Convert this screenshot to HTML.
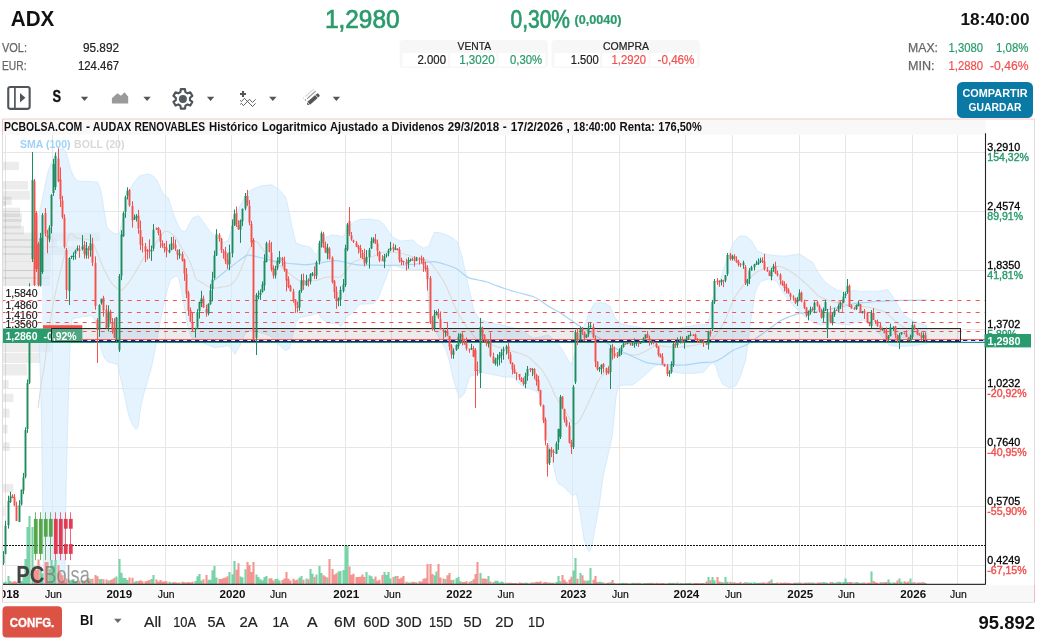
<!DOCTYPE html>
<html lang="es">
<head>
<meta charset="utf-8">
<title>PCBolsa - ADX AUDAX RENOVABLES</title>
<style>
html,body{margin:0;padding:0;background:#fff;}
body{width:1048px;height:643px;overflow:hidden;font-family:'Liberation Sans', Arial, sans-serif;}
#app{position:relative;width:1048px;height:643px;overflow:hidden;background:#fff;}
svg{position:absolute;left:0;top:0;display:block;will-change:transform;}
svg text{font-family:'Liberation Sans', Arial, sans-serif;white-space:pre;}
</style>
</head>
<body>
<div id="app">
<svg width="1048" height="643" viewBox="0 0 1048 643">
<g id="header">
<text x="10.8" y="26.3" font-size="21.8" fill="#111" font-weight="bold" textLength="43.6" lengthAdjust="spacingAndGlyphs">ADX</text>
<text x="2" y="52" font-size="12.5" fill="#666" textLength="25" lengthAdjust="spacingAndGlyphs" stroke="#666" stroke-width="0.25">VOL:</text>
<text x="2" y="70" font-size="12.5" fill="#666" textLength="24.5" lengthAdjust="spacingAndGlyphs" stroke="#666" stroke-width="0.25">EUR:</text>
<text x="119" y="52" font-size="12.5" fill="#222" text-anchor="end" textLength="36" lengthAdjust="spacingAndGlyphs" stroke="#222" stroke-width="0.22">95.892</text>
<text x="119" y="70" font-size="12.5" fill="#222" text-anchor="end" textLength="41" lengthAdjust="spacingAndGlyphs" stroke="#222" stroke-width="0.22">124.467</text>
<text x="325" y="27.5" font-size="25" fill="#2a9b6c" textLength="74.5" lengthAdjust="spacingAndGlyphs" stroke="#2a9b6c" stroke-width="0.7">1,2980</text>
<text x="510.5" y="27.5" font-size="25" fill="#2a9b6c" textLength="59.5" lengthAdjust="spacingAndGlyphs" stroke="#2a9b6c" stroke-width="0.7">0,30%</text>
<text x="574.5" y="24" font-size="12.5" fill="#2a9b6c" font-weight="bold" textLength="47" lengthAdjust="spacingAndGlyphs" stroke="#2a9b6c" stroke-width="0.22">(0,0040)</text>
<text x="1029.5" y="24.5" font-size="17" fill="#111" font-weight="bold" text-anchor="end" textLength="69" lengthAdjust="spacingAndGlyphs">18:40:00</text>
<rect x="399.5" y="40" width="148.5" height="28" rx="4" fill="#f7f7f7"/>
<rect x="551.5" y="40" width="148.5" height="28" rx="4" fill="#f7f7f7"/>
<rect x="402.5" y="53" width="45.5" height="13.5" fill="#fff"/>
<rect x="450.0" y="53" width="46.5" height="13.5" fill="#fff"/>
<rect x="498.5" y="53" width="46.5" height="13.5" fill="#fff"/>
<rect x="554.5" y="53" width="45.5" height="13.5" fill="#fff"/>
<rect x="602.0" y="53" width="46.5" height="13.5" fill="#fff"/>
<rect x="650.5" y="53" width="46.5" height="13.5" fill="#fff"/>
<text x="474.3" y="50" font-size="11.5" fill="#222" text-anchor="middle" textLength="33.5" lengthAdjust="spacingAndGlyphs" stroke="#222" stroke-width="0.22">VENTA</text>
<text x="626" y="50" font-size="11.5" fill="#222" text-anchor="middle" textLength="46" lengthAdjust="spacingAndGlyphs" stroke="#222" stroke-width="0.22">COMPRA</text>
<text x="446" y="64" font-size="12.5" fill="#222" text-anchor="end" textLength="28.5" lengthAdjust="spacingAndGlyphs" stroke="#222" stroke-width="0.22">2.000</text>
<text x="459.2" y="64" font-size="12.5" fill="#2a9b6c" textLength="35.5" lengthAdjust="spacingAndGlyphs" stroke="#2a9b6c" stroke-width="0.22">1,3020</text>
<text x="510" y="64" font-size="12.5" fill="#2a9b6c" textLength="32.2" lengthAdjust="spacingAndGlyphs" stroke="#2a9b6c" stroke-width="0.22">0,30%</text>
<text x="598.7" y="64" font-size="12.5" fill="#222" text-anchor="end" textLength="28" lengthAdjust="spacingAndGlyphs" stroke="#222" stroke-width="0.22">1.500</text>
<text x="611.5" y="64" font-size="12.5" fill="#f0504d" textLength="34.5" lengthAdjust="spacingAndGlyphs" stroke="#f0504d" stroke-width="0.22">1,2920</text>
<text x="657.5" y="64" font-size="12.5" fill="#f0504d" textLength="37" lengthAdjust="spacingAndGlyphs" stroke="#f0504d" stroke-width="0.22">-0,46%</text>
<text x="908" y="52" font-size="12.5" fill="#666" textLength="30" lengthAdjust="spacingAndGlyphs" stroke="#666" stroke-width="0.25">MAX:</text>
<text x="948.5" y="52" font-size="12.5" fill="#2a9b6c" textLength="34.5" lengthAdjust="spacingAndGlyphs" stroke="#2a9b6c" stroke-width="0.22">1,3080</text>
<text x="1028.5" y="52" font-size="12.5" fill="#2a9b6c" text-anchor="end" textLength="32.5" lengthAdjust="spacingAndGlyphs" stroke="#2a9b6c" stroke-width="0.22">1,08%</text>
<text x="908" y="70" font-size="12.5" fill="#666" textLength="26.5" lengthAdjust="spacingAndGlyphs" stroke="#666" stroke-width="0.25">MIN:</text>
<text x="948.5" y="70" font-size="12.5" fill="#f0504d" textLength="34.5" lengthAdjust="spacingAndGlyphs" stroke="#f0504d" stroke-width="0.22">1,2880</text>
<text x="1028.5" y="70" font-size="12.5" fill="#f0504d" text-anchor="end" textLength="38.5" lengthAdjust="spacingAndGlyphs" stroke="#f0504d" stroke-width="0.22">-0,46%</text>
<rect x="957" y="82" width="76" height="36" rx="5.5" fill="#0b79a6"/>
<text x="995" y="97" font-size="11" fill="#fff" font-weight="bold" text-anchor="middle" textLength="65" lengthAdjust="spacingAndGlyphs">COMPARTIR</text>
<text x="995" y="110.5" font-size="11" fill="#fff" font-weight="bold" text-anchor="middle" textLength="53" lengthAdjust="spacingAndGlyphs">GUARDAR</text>
</g>
<g id="toolbar">
<rect x="8.25" y="87.05" width="21.4" height="21.8" rx="2" fill="none" stroke="#50555c" stroke-width="2.1"/>
<path d="M14.9 87v22" stroke="#50555c" stroke-width="1.7"/>
<path d="M20 93l5.4 4.8l-5.4 4.8z" fill="#50555c"/>
<text x="52.6" y="102" font-size="16" fill="#111" font-weight="bold" textLength="8.6" lengthAdjust="spacingAndGlyphs" stroke="#111" stroke-width="0.3">S</text>
<path d="M80.8 96.8h7.4l-3.7 4.1z" fill="#555"/>
<path d="M111.9 103.5V98.2L117.4 93.2L121 95.8L124.6 92.3L128.2 96.8V103.5z" fill="#9a9a9a"/>
<path d="M143.4 96.8h7.4l-3.7 4.1z" fill="#555"/>
<path d="M180.36 92.16L180.84 89.22L184.96 89.22L185.44 92.16L187.47 93.33L190.25 92.27L192.32 95.85L190.00 97.73L190.00 100.07L192.32 101.95L190.25 105.53L187.47 104.47L185.44 105.64L184.96 108.58L180.84 108.58L180.36 105.64L178.33 104.47L175.55 105.53L173.48 101.95L175.80 100.07L175.80 97.73L173.48 95.85L175.55 92.27L178.33 93.33z" fill="none" stroke="#50555c" stroke-width="2.2" stroke-linejoin="round"/>
<circle cx="182.9" cy="98.9" r="4" fill="#555a62"/>
<path d="M206.9 96.8h7.4l-3.7 4.1z" fill="#555"/>
<path d="M240 94h6M243 91v6" stroke="#555" stroke-width="2.1"/>
<path d="M240.16 100.37L241.46 101.49L244.45 98.31L252.47 106.45L255.64 103.35" fill="none" stroke="#444" stroke-width="0.85"/>
<path d="M240.16 104.47L241.46 103.35L243.51 105.59L249.49 99.25L252.47 102.42L255.64 99.36" fill="none" stroke="#444" stroke-width="0.85"/>
<path d="M269.1 96.8h7.4l-3.7 4.1z" fill="#555"/>
<g transform="translate(313 99.5) rotate(-41.1)"><path d="M-7.9 0l1.7-1.9v3.8z" fill="#555"/><path d="M-5.6 -1.95h10.1v3.9h-10.1z" fill="#555"/><path d="M5.1 -1.95h1.6a1.1 1.1 0 0 1 1.1 1.1v1.7a1.1 1.1 0 0 1 -1.1 1.1h-1.6z" fill="#555"/></g>
<g transform="translate(310.9 95.3) rotate(-41.1)"><path d="M-5 0h11.3" stroke="#919191" stroke-width="1.2"/><path d="M-7.8 0h1.3" stroke="#919191" stroke-width="1.2"/></g>
<g transform="translate(308.95 93.3) rotate(-41.1)"><path d="M-5 0h11.3" stroke="#d6d6d6" stroke-width="1.2"/><path d="M-7.8 0h1.3" stroke="#d6d6d6" stroke-width="1.2"/></g>
<path d="M332.7 96.8h7.4l-3.7 4.1z" fill="#555"/>
</g>
<g id="chart">
<rect x="3" y="585.2" width="1031.5" height="17" fill="#f8f8f8"/>
<rect x="3" y="119.5" width="982.5" height="15.2" fill="#f8f8f8"/>
<path d="M2.5 135V119H1034.5" fill="none" stroke="#f3c6c6" stroke-width="1"/>
<path d="M2.5 135V585" fill="none" stroke="#e2dada" stroke-width="1"/>
<path d="M2.5 585V602.5" fill="none" stroke="#f3c6c6" stroke-width="1"/>
<path d="M1034.5 119V585" fill="none" stroke="#e4dcdc" stroke-width="1"/>
<path d="M1034.5 585V602.5" fill="none" stroke="#f1bcbc" stroke-width="1"/>
<path d="M2.5 602.5H1034.5" fill="none" stroke="#e6e6e6" stroke-width="1"/>
<g font-weight="bold" font-size="12" fill="#111">
<text x="4.00" y="131.3" textLength="78.25" lengthAdjust="spacingAndGlyphs">PCBOLSA.COM</text>
<text x="87.88" y="131.3" text-anchor="middle">-</text>
<text x="92.75" y="131.3" textLength="38.50" lengthAdjust="spacingAndGlyphs">AUDAX</text>
<text x="134.50" y="131.3" textLength="70.50" lengthAdjust="spacingAndGlyphs">RENOVABLES</text>
<text x="209.00" y="131.3" textLength="49.00" lengthAdjust="spacingAndGlyphs">Histórico</text>
<text x="262.00" y="131.3" textLength="64.75" lengthAdjust="spacingAndGlyphs">Logaritmico</text>
<text x="330.00" y="131.3" textLength="48.00" lengthAdjust="spacingAndGlyphs">Ajustado</text>
<text x="385.38" y="131.3" text-anchor="middle">a</text>
<text x="391.50" y="131.3" textLength="52.75" lengthAdjust="spacingAndGlyphs">Dividenos</text>
<text x="447.75" y="131.3" textLength="51.50" lengthAdjust="spacingAndGlyphs">29/3/2018</text>
<text x="504.80" y="131.3" text-anchor="middle">-</text>
<text x="510.75" y="131.3" textLength="52.25" lengthAdjust="spacingAndGlyphs">17/2/2026</text>
<text x="568.25" y="131.3" text-anchor="middle">,</text>
<text x="573.25" y="131.3" textLength="42.75" lengthAdjust="spacingAndGlyphs">18:40:00</text>
<text x="619.50" y="131.3" textLength="35.25" lengthAdjust="spacingAndGlyphs">Renta:</text>
<text x="658.25" y="131.3" textLength="43.50" lengthAdjust="spacingAndGlyphs">176,50%</text>
</g>
<clipPath id="plot"><rect x="3" y="135" width="982.5" height="449"/></clipPath>
<path d="M3 152.2H985.5M3 211.2H985.5M3 270.3H985.5M3 329.3H985.5M3 388.3H985.5M3 447.3H985.5M3 506.2H985.5M3 565.2H985.5M5.4 135V584M118.5 135V584M231.7 135V584M345.4 135V584M458.4 135V584M572.5 135V584M685.6 135V584M799.4 135V584M912.4 135V584M52.6 135V584M165.4 135V584M277.6 135V584M391.5 135V584M505.2 135V584M619.7 135V584M732.7 135V584M845.7 135V584M957.6 135V584" stroke="#e6e6e6" stroke-width="1" fill="none" shape-rendering="crispEdges"/>
<g clip-path="url(#plot)">
<rect x="3" y="161.7" width="16" height="8.5" fill="#000" fill-opacity="0.075"/>
<rect x="3" y="181" width="25" height="8.6" fill="#000" fill-opacity="0.075"/>
<rect x="3" y="190.7" width="26.9" height="9" fill="#000" fill-opacity="0.075"/>
<rect x="3" y="196.6" width="8.7" height="8.4" fill="#000" fill-opacity="0.075"/>
<rect x="3" y="201" width="3.2" height="5.7" fill="#000" fill-opacity="0.075"/>
<rect x="3" y="207.7" width="17.2" height="9.5" fill="#000" fill-opacity="0.075"/>
<rect x="3" y="213.4" width="19" height="8.6" fill="#000" fill-opacity="0.075"/>
<rect x="3" y="219" width="18" height="9.5" fill="#000" fill-opacity="0.075"/>
<rect x="3" y="225.8" width="21" height="8.6" fill="#000" fill-opacity="0.075"/>
<rect x="3" y="232.5" width="97" height="8.6" fill="#000" fill-opacity="0.075"/>
<rect x="3" y="239" width="54" height="8.8" fill="#000" fill-opacity="0.075"/>
<rect x="3" y="246" width="73" height="9" fill="#000" fill-opacity="0.075"/>
<rect x="3" y="253" width="48" height="9" fill="#000" fill-opacity="0.075"/>
<rect x="3" y="261.5" width="48" height="9" fill="#000" fill-opacity="0.075"/>
<rect x="3" y="270" width="47.5" height="9" fill="#000" fill-opacity="0.075"/>
<rect x="3" y="277" width="47" height="9" fill="#000" fill-opacity="0.075"/>
<rect x="3" y="343" width="48.6" height="9.3" fill="#000" fill-opacity="0.075"/>
<rect x="3" y="353" width="37" height="10" fill="#000" fill-opacity="0.075"/>
<rect x="3" y="364" width="23.8" height="11.5" fill="#000" fill-opacity="0.075"/>
<rect x="3" y="380" width="5.6" height="8" fill="#000" fill-opacity="0.075"/>
<rect x="3" y="393.7" width="10.4" height="8.3" fill="#000" fill-opacity="0.075"/>
<rect x="3" y="408.6" width="6.6" height="9" fill="#000" fill-opacity="0.075"/>
<rect x="3" y="424.7" width="4.6" height="8.8" fill="#000" fill-opacity="0.075"/>
<rect x="3" y="442.4" width="6.6" height="8.6" fill="#000" fill-opacity="0.075"/>
<rect x="3" y="483.8" width="10.4" height="8.6" fill="#000" fill-opacity="0.075"/>
<rect x="3" y="507.7" width="1.5" height="8.6" fill="#000" fill-opacity="0.075"/>
<path d="M37.3 223.0C37.6 221.7 38.5 217.2 39.0 214.7C39.5 212.2 40.2 209.0 40.5 207.4C40.8 205.9 40.8 205.8 41.0 205.0C41.2 204.2 41.3 203.5 41.5 202.6C41.7 201.6 42.0 200.3 42.2 199.2C42.4 198.0 42.7 196.7 43.0 195.3C43.3 193.9 43.8 191.6 44.0 190.4C44.2 189.3 43.9 190.8 44.5 188.0C45.1 185.2 46.7 177.0 47.8 173.0C48.9 169.0 50.3 166.0 51.5 163.0C52.7 160.0 54.3 156.1 55.5 154.0C56.7 151.9 57.8 150.9 59.0 150.0C60.2 149.1 62.2 148.5 63.1 148.5C64.0 148.5 64.1 149.8 64.5 150.2C64.9 150.6 65.1 150.9 65.3 151.2C65.5 151.4 65.8 151.7 66.0 152.0C66.2 152.3 66.0 152.0 66.3 153.1C66.6 154.2 67.4 157.1 67.8 158.7C68.2 160.3 68.6 161.7 69.0 163.2C69.4 164.6 69.9 166.6 70.2 167.6C70.5 168.7 70.4 168.7 70.7 169.5C71.0 170.3 71.5 171.3 72.0 172.5C72.5 173.7 73.4 175.9 74.0 177.0C74.6 178.1 75.4 178.6 76.0 179.3C76.6 179.9 76.2 180.7 77.5 181.0C78.8 181.3 82.3 181.2 84.0 181.3C85.7 181.4 86.7 181.4 88.0 181.5C89.3 181.6 90.7 181.6 92.0 181.7C93.3 181.8 95.1 181.9 96.0 181.9C96.9 182.0 96.9 181.2 97.5 182.0C98.1 182.8 99.1 186.0 99.5 187.0C99.9 188.0 99.7 187.6 100.0 188.5C100.3 189.4 100.7 189.1 101.3 192.5C101.9 195.9 103.1 204.5 104.0 210.0C104.9 215.5 106.4 224.1 107.0 227.0C107.6 229.9 107.5 227.6 108.0 228.2C108.5 228.7 109.2 229.8 110.0 230.5C110.8 231.2 112.2 231.9 113.0 232.4C113.8 232.9 114.0 233.3 114.7 233.5C115.4 233.7 116.8 233.5 117.6 233.5C118.4 233.5 119.0 234.6 119.5 233.5C120.0 232.4 120.5 228.9 121.0 226.8C121.5 224.6 121.9 222.4 122.5 220.0C123.1 217.6 124.4 213.6 125.0 211.6C125.6 209.6 125.6 210.2 126.2 207.5C126.8 204.8 128.4 197.4 129.0 194.6C129.6 191.8 129.4 191.5 130.0 190.0C130.6 188.5 131.9 186.4 132.5 185.3C133.1 184.1 133.3 183.6 133.8 182.8C134.3 182.0 135.1 181.2 135.8 180.4C136.5 179.6 137.4 178.5 138.0 177.8C138.6 177.1 139.2 176.3 139.5 176.0C139.8 175.7 139.5 176.0 140.0 175.9C140.5 175.7 141.7 175.4 142.5 175.2C143.3 175.0 144.5 174.6 145.0 174.5C145.5 174.4 144.9 174.5 145.5 174.5C146.1 174.4 148.0 174.0 149.0 174.2C150.0 174.4 151.4 175.3 152.0 175.6C152.6 175.8 152.5 175.6 153.0 176.0C153.5 176.4 154.4 177.5 155.0 178.1C155.6 178.7 156.3 179.3 156.8 180.0C157.3 180.7 157.5 181.5 158.0 182.6C158.5 183.7 159.5 186.0 160.0 187.0C160.5 188.0 160.6 188.3 161.0 189.1C161.4 190.0 162.0 191.5 162.5 192.3C163.0 193.1 163.5 193.6 164.0 194.2C164.5 194.7 165.0 195.5 165.5 196.0C166.0 196.5 166.6 196.8 167.0 197.1C167.4 197.4 167.8 197.0 168.3 198.0C168.8 199.0 169.6 201.8 170.0 203.0C170.4 204.3 170.4 204.0 171.0 206.0C171.6 208.0 172.9 212.3 174.0 215.3C175.1 218.3 176.9 222.7 178.0 225.0C179.1 227.3 180.4 228.8 181.0 229.7C181.6 230.6 181.1 230.4 181.6 230.6C182.1 230.8 183.4 231.0 184.0 231.2C184.6 231.3 185.0 231.9 185.5 231.5C186.0 231.1 186.3 229.9 187.0 228.5C187.7 227.1 189.0 224.2 190.0 222.5C191.0 220.8 191.9 219.0 193.0 218.0C194.1 217.0 196.1 216.7 197.0 216.4C197.9 216.0 197.6 214.9 198.6 215.7C199.6 216.5 202.0 220.1 203.0 221.5C204.0 222.9 204.0 223.0 205.0 224.3C206.0 225.7 207.6 228.2 209.0 230.0C210.4 231.8 213.0 234.4 214.0 235.4C215.0 236.5 213.9 235.4 215.0 236.5C216.1 237.6 219.6 241.5 220.6 242.4C221.6 243.3 220.3 242.4 221.0 242.4C221.7 242.3 223.9 242.3 225.0 242.0C226.1 241.7 227.5 240.8 228.0 240.6C228.5 240.4 227.7 242.0 228.2 240.5C228.7 239.0 230.4 233.1 231.0 231.0C231.6 228.9 231.5 229.1 232.0 227.3C232.5 225.6 233.5 221.5 234.0 220.0C234.5 218.5 234.4 219.2 235.0 217.7C235.6 216.2 237.2 212.5 238.0 210.7C238.8 208.8 238.9 208.3 240.0 206.0C241.1 203.7 243.9 198.6 245.0 196.5C246.1 194.4 246.4 193.5 247.0 192.7C247.6 191.9 247.9 192.2 249.0 191.5C250.1 190.8 252.9 189.1 254.0 188.5C255.1 187.9 254.7 188.3 256.0 187.8C257.3 187.4 260.9 186.2 262.0 185.8C263.1 185.5 261.4 185.7 262.7 185.6C264.0 185.5 268.5 185.2 270.0 185.1C271.5 185.0 271.0 184.6 272.0 185.0C273.0 185.4 274.9 186.9 276.0 187.6C277.1 188.3 278.0 188.6 279.0 189.5C280.0 190.4 280.9 191.9 282.0 193.1C283.1 194.4 284.6 195.0 285.6 197.5C286.6 200.0 287.9 206.4 288.5 209.0C289.1 211.6 289.0 211.6 289.4 213.7C289.8 215.8 290.6 220.0 291.0 222.0C291.4 224.0 291.6 224.6 292.0 226.4C292.4 228.2 293.2 231.6 293.5 233.0C293.8 234.4 293.6 233.4 294.0 235.0C294.4 236.6 295.6 241.7 296.0 243.0C296.4 244.3 296.0 243.0 296.5 243.2C297.0 243.3 298.0 243.7 299.0 244.1C300.0 244.4 302.0 245.2 303.0 245.5C304.0 245.8 303.9 245.7 305.0 245.9C306.1 246.2 308.9 246.5 310.0 247.0C311.1 247.5 311.5 248.8 312.0 249.3C312.5 249.9 312.4 249.6 313.0 250.5C313.6 251.4 315.2 255.0 316.0 255.0C316.8 255.0 317.5 251.5 318.0 250.3C318.5 249.2 318.4 249.6 319.0 248.0C319.6 246.4 320.9 242.3 322.0 240.5C323.1 238.7 325.1 237.7 326.0 237.0C326.9 236.3 326.8 236.7 327.7 236.4C328.6 236.1 330.8 235.2 331.5 235.0C332.2 234.8 331.1 235.0 332.0 235.0C332.9 235.1 335.6 235.3 337.0 235.5C338.4 235.7 340.0 236.1 341.0 236.3C342.0 236.5 342.6 236.8 343.0 236.7C343.4 236.6 343.2 236.4 343.5 235.8C343.8 235.3 344.6 233.9 345.0 233.2C345.4 232.5 345.4 232.7 346.0 231.5C346.6 230.3 348.2 226.9 348.7 226.0C349.2 225.1 348.4 226.2 349.0 225.8C349.6 225.3 351.7 223.7 352.5 223.1C353.3 222.5 353.4 222.3 354.0 222.0C354.6 221.7 355.0 221.6 356.0 221.2C357.0 220.8 358.4 219.8 360.0 219.5C361.6 219.2 364.4 219.4 366.0 219.4C367.6 219.3 368.8 219.2 370.0 219.3C371.2 219.4 372.6 219.6 373.6 219.7C374.6 219.9 375.6 220.0 376.5 220.1C377.4 220.2 378.1 220.0 379.0 220.4C379.9 220.8 381.2 222.2 382.0 222.9C382.8 223.5 383.5 224.0 384.0 224.5C384.5 225.0 384.4 225.1 385.0 226.0C385.6 227.0 387.2 229.4 388.0 230.6C388.8 231.9 389.4 232.8 390.0 233.7C390.6 234.6 390.9 235.4 391.5 236.0C392.1 236.6 393.3 237.2 394.0 237.7C394.7 238.1 395.0 238.5 396.0 239.0C397.0 239.5 399.2 240.3 400.0 240.6C400.8 240.9 399.7 241.0 401.0 241.0C402.3 241.0 406.2 240.7 408.0 240.5C409.8 240.3 411.2 239.6 412.5 240.0C413.8 240.4 415.1 242.4 416.0 243.2C416.9 244.0 416.9 244.3 418.0 245.0C419.1 245.7 422.0 247.0 423.0 247.5C424.0 248.0 423.5 248.1 424.0 248.0C424.5 247.9 425.4 247.4 426.0 247.2C426.6 246.9 427.1 246.7 427.5 246.5C427.9 246.4 428.6 246.2 428.8 246.0C429.0 245.8 428.6 246.4 429.0 245.5C429.4 244.6 430.6 241.3 431.0 240.3C431.4 239.3 430.9 240.2 431.5 239.0C432.1 237.8 433.9 233.5 434.5 232.5C435.1 231.5 434.3 232.5 435.0 232.5C435.7 232.5 438.2 232.4 439.0 232.5C439.8 232.6 439.0 232.5 440.0 232.8C441.0 233.1 444.0 234.1 445.0 234.4C446.0 234.7 445.3 234.5 446.0 234.8C446.7 235.1 448.7 236.0 449.5 236.3C450.3 236.7 450.5 236.7 451.0 237.0C451.5 237.3 451.9 237.7 452.7 238.2C453.5 238.8 455.4 240.2 456.0 240.6C456.6 241.1 456.0 239.9 456.5 241.0C457.0 242.1 458.9 246.6 459.4 247.8C459.9 248.9 459.1 246.6 459.5 248.0C459.9 249.4 461.4 254.8 461.8 256.3C462.2 257.7 461.6 255.4 462.0 257.0C462.4 258.6 463.7 264.5 464.2 266.5C464.7 268.6 464.6 268.0 465.0 270.0C465.4 272.0 466.5 277.1 467.0 279.3C467.5 281.6 467.5 281.9 468.0 284.0C468.5 286.1 469.5 290.6 470.0 292.7C470.5 294.7 470.4 294.3 471.0 297.0C471.6 299.7 473.0 307.0 473.7 309.6C474.4 312.2 475.1 312.1 475.6 313.0C476.1 313.9 476.1 314.4 477.0 315.5C477.9 316.6 480.0 319.2 481.0 320.0C482.0 320.8 481.4 320.1 483.0 320.6C484.6 321.1 489.6 322.6 491.0 323.0C492.4 323.4 490.2 322.9 492.0 323.2C493.8 323.5 500.3 324.7 502.0 325.0C503.7 325.3 501.4 324.9 502.4 325.1C503.4 325.3 506.8 326.2 508.0 326.5C509.2 326.8 509.0 326.8 510.0 327.0C511.0 327.2 512.9 327.6 514.0 327.9C515.1 328.1 516.4 328.4 517.0 328.5C517.6 328.7 517.3 328.5 517.7 328.7C518.1 328.9 518.4 329.1 519.6 329.8C520.8 330.5 524.0 332.4 525.0 333.0C526.0 333.6 524.7 332.8 526.0 333.6C527.3 334.4 531.4 337.4 533.0 338.0C534.6 338.6 535.1 337.7 536.0 337.6C536.9 337.4 538.1 337.3 538.7 337.2C539.3 337.1 539.7 337.1 540.0 337.0C540.3 336.9 540.1 337.0 540.6 336.9C541.1 336.7 542.1 336.5 543.0 336.2C543.9 336.0 545.7 335.6 546.5 335.4C547.3 335.2 547.3 334.7 548.0 335.0C548.7 335.3 549.9 336.5 550.7 337.2C551.5 337.8 552.6 338.6 553.0 339.0C553.4 339.4 552.9 338.9 553.5 339.5C554.1 340.1 555.8 341.8 556.5 342.5C557.2 343.2 557.6 343.6 558.0 344.0C558.4 344.4 558.2 344.2 558.8 345.1C559.4 346.0 560.9 347.8 562.0 349.5C563.1 351.2 564.9 354.4 565.5 355.5C566.1 356.6 565.5 355.5 566.0 356.3C566.5 357.1 567.6 359.2 568.5 360.5C569.4 361.8 571.0 364.0 571.5 364.5C572.0 365.0 571.4 364.9 571.7 363.8C572.0 362.8 572.8 360.7 573.5 358.0C574.2 355.3 575.5 349.0 576.0 347.0C576.5 345.0 576.1 346.7 576.5 345.5C576.9 344.3 577.9 341.2 578.5 339.5C579.1 337.8 579.7 335.8 580.0 335.0C580.3 334.2 579.9 335.1 580.3 334.3C580.7 333.6 581.6 331.5 582.2 330.2C582.8 328.9 583.6 327.2 584.0 326.2C584.4 325.2 584.5 325.2 585.0 324.0C585.5 322.8 586.3 320.6 587.0 318.7C587.7 316.7 588.7 313.7 589.5 312.0C590.3 310.3 591.1 309.1 591.8 308.0C592.5 306.8 593.3 305.4 593.7 304.6C594.1 303.9 594.1 303.6 594.4 303.4C594.7 303.2 595.1 303.3 595.6 303.2C596.1 303.1 596.9 303.0 597.5 302.9C598.1 302.8 598.8 302.7 599.4 302.6C600.0 302.6 600.7 302.4 601.0 302.4C601.3 302.4 600.8 302.4 601.2 302.4C601.6 302.5 602.8 302.8 603.3 302.9C603.8 303.0 604.1 303.1 604.5 303.2C604.9 303.3 605.4 303.2 606.0 303.5C606.6 303.8 607.4 304.5 608.0 304.9C608.6 305.3 609.1 305.0 609.7 306.0C610.3 307.0 611.6 310.0 612.0 310.9C612.4 311.9 612.2 311.3 612.5 312.0C612.8 312.7 613.5 314.4 614.0 315.5C614.5 316.5 615.1 318.1 615.4 318.7C615.7 319.3 615.4 318.7 615.8 319.0C616.2 319.4 617.1 320.2 617.7 320.7C618.3 321.2 618.8 321.6 619.3 322.0C619.8 322.5 619.9 323.0 621.0 323.5C622.1 324.0 624.9 324.6 626.0 324.9C627.1 325.2 626.9 325.3 628.0 325.5C629.1 325.7 631.2 326.1 632.6 326.3C634.0 326.6 635.6 326.8 636.5 327.0C637.4 327.2 637.3 327.1 638.5 327.3C639.7 327.5 642.8 328.0 644.0 328.2C645.2 328.4 645.0 328.3 646.0 328.5C647.0 328.7 648.5 328.9 650.0 329.1C651.5 329.4 653.8 329.9 655.6 330.0C657.4 330.1 659.5 329.9 661.0 329.9C662.5 329.9 664.0 329.8 665.0 329.8C666.0 329.8 665.8 329.8 667.0 329.7C668.2 329.6 671.5 329.5 672.8 329.4C674.1 329.3 673.7 329.6 675.0 329.3C676.3 329.0 679.6 328.1 681.0 327.8C682.4 327.4 682.6 327.3 684.0 327.0C685.4 326.7 688.6 326.2 690.0 326.0C691.4 325.8 691.9 325.6 693.0 325.5C694.1 325.4 695.9 325.2 697.0 325.1C698.1 325.0 699.0 324.9 700.0 324.8C701.0 324.7 702.4 324.7 703.4 324.6C704.4 324.5 705.9 324.5 706.5 324.4C707.1 324.4 706.6 325.3 707.0 324.4C707.4 323.5 708.5 320.1 709.0 318.8C709.5 317.5 709.6 318.7 710.0 316.0C710.4 313.3 711.0 304.9 711.5 302.0C712.0 299.1 712.4 299.3 713.0 297.7C713.6 296.1 714.5 293.3 715.0 292.0C715.5 290.7 715.4 291.1 716.0 289.7C716.6 288.3 718.2 284.6 718.7 283.5C719.2 282.4 718.4 284.6 719.0 282.8C719.6 281.0 721.9 274.4 722.5 272.5C723.1 270.6 722.4 272.6 723.0 271.0C723.6 269.4 725.4 264.0 726.0 262.2C726.6 260.5 726.3 261.3 726.8 259.9C727.3 258.5 728.5 255.2 729.0 253.8C729.5 252.4 729.4 252.4 730.0 251.0C730.6 249.6 731.9 246.3 732.5 245.0C733.1 243.7 732.9 243.5 733.5 242.6C734.1 241.7 735.4 240.3 736.0 239.7C736.6 239.0 736.4 239.1 737.0 238.5C737.6 237.9 739.0 236.4 740.0 236.0C741.0 235.6 742.5 236.1 743.5 236.2C744.5 236.2 745.2 236.0 746.0 236.3C746.8 236.6 747.7 237.7 748.5 238.3C749.3 238.9 750.2 239.6 750.7 240.0C751.2 240.4 751.2 240.2 751.6 240.7C752.0 241.2 752.5 242.4 753.0 243.3C753.5 244.1 754.1 245.3 754.5 246.0C754.9 246.7 754.9 246.8 755.4 247.6C755.9 248.4 757.0 250.4 757.4 251.0C757.8 251.6 757.4 251.0 758.0 251.2C758.6 251.4 760.0 252.0 761.0 252.4C762.0 252.7 763.4 253.3 764.0 253.5C764.6 253.7 764.2 253.6 765.0 253.7C765.8 253.9 767.9 254.4 768.8 254.6C769.7 254.8 770.1 254.9 770.7 255.0C771.3 255.1 771.6 255.1 772.5 255.2C773.4 255.3 775.6 255.5 776.5 255.6C777.4 255.7 777.4 255.8 778.0 255.8C778.6 255.8 779.0 255.8 780.0 255.9C781.0 255.9 783.0 255.9 784.0 255.9C785.0 256.0 785.0 256.1 786.0 256.0C787.0 255.9 788.9 255.6 790.0 255.4C791.1 255.3 792.1 255.1 793.0 255.0C793.9 254.9 794.6 254.8 795.6 254.6C796.6 254.4 798.8 254.1 799.4 254.0C800.0 253.9 798.9 253.7 799.5 254.1C800.1 254.4 802.0 255.6 803.0 256.2C804.0 256.8 805.0 257.4 806.0 258.0C807.0 258.6 807.9 259.3 809.0 260.1C810.1 260.8 811.9 261.7 812.8 262.7C813.7 263.7 814.3 265.3 814.7 266.1C815.1 266.8 814.9 266.4 815.5 267.5C816.1 268.6 817.5 271.3 818.5 273.0C819.5 274.7 820.8 276.4 822.0 278.0C823.2 279.6 825.0 281.8 826.0 282.8C827.0 283.8 827.0 283.5 828.0 284.2C829.0 284.9 831.1 286.4 832.0 287.0C832.9 287.6 832.9 287.5 833.8 288.1C834.7 288.6 836.5 290.0 837.7 290.4C838.9 290.8 839.7 290.7 841.0 290.9C842.3 291.1 844.7 291.5 846.0 291.6C847.3 291.7 847.6 291.4 849.0 291.2C850.4 291.0 853.9 290.5 855.0 290.4C856.1 290.3 855.0 290.4 856.0 290.6C857.0 290.8 860.0 291.4 861.0 291.5C862.0 291.6 861.5 291.5 862.5 291.4C863.5 291.3 865.5 291.0 867.0 291.0C868.5 291.0 870.4 291.4 872.0 291.4C873.6 291.4 875.4 291.2 876.7 291.2C878.0 291.1 878.9 291.1 880.0 291.0C881.1 290.9 882.2 290.7 883.5 290.6C884.8 290.4 886.8 289.4 888.0 290.0C889.2 290.6 890.2 292.9 891.0 294.0C891.8 295.1 892.5 296.4 893.0 297.1C893.5 297.9 893.2 297.5 894.0 298.7C894.8 299.9 896.9 303.5 897.7 304.8C898.5 306.2 898.1 305.5 899.0 307.0C899.9 308.5 902.5 312.7 903.5 314.0C904.5 315.3 904.3 314.7 905.0 315.3C905.7 316.0 906.7 317.1 908.0 318.0C909.3 318.9 911.1 319.8 913.0 320.7C914.9 321.6 917.8 322.7 920.0 323.5C922.2 324.3 925.7 325.2 926.8 325.5L926.8 343.6C925.7 343.8 922.2 344.2 920.0 344.6C917.8 345.0 914.9 345.6 913.0 345.8C911.1 346.0 909.3 346.0 908.0 346.1C906.7 346.2 905.7 346.3 905.0 346.3C904.3 346.3 904.5 346.3 903.5 346.3C902.5 346.4 899.9 346.4 899.0 346.5C898.1 346.5 898.5 346.6 897.7 346.5C896.9 346.4 894.8 346.2 894.0 346.1C893.2 346.0 893.5 346.1 893.0 346.0C892.5 345.9 891.8 345.7 891.0 345.4C890.2 345.2 889.2 345.8 888.0 344.6C886.8 343.4 884.8 339.6 883.5 338.0C882.2 336.4 881.1 335.5 880.0 334.4C878.9 333.3 878.0 332.2 876.7 331.0C875.4 329.8 873.6 328.3 872.0 327.0C870.4 325.7 868.5 324.1 867.0 323.0C865.5 321.9 863.5 320.4 862.5 320.0C861.5 319.6 862.0 320.2 861.0 320.5C860.0 320.9 857.0 322.0 856.0 322.3C855.0 322.6 856.1 322.3 855.0 322.7C853.9 323.1 850.4 324.7 849.0 325.0C847.6 325.3 847.3 324.8 846.0 324.7C844.7 324.6 842.3 324.5 841.0 324.3C839.7 324.1 838.9 323.9 837.7 323.7C836.5 323.5 834.7 323.0 833.8 323.0C832.9 323.0 832.9 323.2 832.0 323.4C831.1 323.6 829.0 324.1 828.0 324.3C827.0 324.5 827.0 324.4 826.0 324.5C825.0 324.6 823.2 325.0 822.0 325.0C820.8 325.0 819.5 324.6 818.5 324.3C817.5 324.0 816.1 323.5 815.5 323.3C814.9 323.1 815.1 323.2 814.7 323.0C814.3 322.8 813.7 322.4 812.8 321.8C811.9 321.3 810.1 320.2 809.0 319.5C807.9 318.8 807.0 318.0 806.0 317.2C805.0 316.5 804.0 315.9 803.0 315.0C802.0 314.1 800.1 312.1 799.5 311.5C798.9 310.9 800.0 312.0 799.4 311.4C798.8 310.8 796.6 308.8 795.6 307.7C794.6 306.6 793.9 305.8 793.0 304.8C792.1 303.8 791.1 302.8 790.0 301.5C788.9 300.2 787.0 297.7 786.0 296.5C785.0 295.3 785.0 295.5 784.0 294.0C783.0 292.5 781.0 288.7 780.0 287.0C779.0 285.3 778.6 284.5 778.0 283.6C777.4 282.6 777.4 281.7 776.5 281.0C775.6 280.3 773.4 279.8 772.5 279.5C771.6 279.2 771.3 279.3 770.7 279.3C770.1 279.2 769.7 278.9 768.8 279.0C767.9 279.1 765.8 279.8 765.0 280.0C764.2 280.2 764.6 280.2 764.0 280.4C763.4 280.7 762.0 280.9 761.0 281.8C760.0 282.7 758.6 285.1 758.0 286.0C757.4 286.9 757.8 286.5 757.4 287.5C757.0 288.5 755.9 290.8 755.4 292.4C754.9 294.0 754.9 295.3 754.5 297.5C754.1 299.7 753.5 303.2 753.0 306.0C752.5 308.8 752.0 312.7 751.6 315.1C751.2 317.5 751.2 317.3 750.7 321.0C750.2 324.7 749.3 332.2 748.5 338.0C747.7 343.8 746.8 352.8 746.0 357.4C745.2 362.0 744.5 363.4 743.5 366.5C742.5 369.6 741.0 374.3 740.0 377.0C739.0 379.7 737.6 382.1 737.0 383.5C736.4 384.8 736.6 385.1 736.0 385.6C735.4 386.1 734.1 386.5 733.5 386.7C732.9 387.0 733.1 387.1 732.5 387.2C731.9 387.3 730.6 387.4 730.0 387.4C729.4 387.5 729.5 387.6 729.0 387.5C728.5 387.4 727.3 386.8 726.8 386.5C726.3 386.3 726.6 386.6 726.0 386.2C725.4 385.8 723.6 384.5 723.0 384.1C722.4 383.7 723.1 384.9 722.5 383.7C721.9 382.5 719.6 377.8 719.0 376.6C718.4 375.4 719.2 377.6 718.7 376.0C718.2 374.4 716.6 368.2 716.0 366.5C715.4 364.8 715.5 365.8 715.0 365.2C714.5 364.6 713.6 362.9 713.0 362.7C712.4 362.5 712.0 363.4 711.5 363.8C711.0 364.1 710.4 364.5 710.0 364.8C709.6 365.1 709.5 364.9 709.0 365.5C708.5 366.1 707.4 367.7 707.0 368.3C706.6 368.9 707.1 368.4 706.5 369.0C705.9 369.6 704.4 371.4 703.4 372.0C702.4 372.6 701.0 372.4 700.0 372.5C699.0 372.7 698.1 372.9 697.0 373.0C695.9 373.1 694.1 373.2 693.0 373.3C691.9 373.4 691.4 373.5 690.0 373.5C688.6 373.5 685.4 373.3 684.0 373.3C682.6 373.3 682.4 373.4 681.0 373.2C679.6 373.0 676.3 372.5 675.0 372.3C673.7 372.1 674.1 372.9 672.8 372.0C671.5 371.1 668.2 367.4 667.0 366.5C665.8 365.6 666.0 366.3 665.0 366.1C664.0 365.9 662.5 365.4 661.0 365.3C659.5 365.2 657.4 364.7 655.6 365.5C653.8 366.3 651.5 369.1 650.0 370.5C648.5 371.9 647.0 373.3 646.0 374.2C645.0 375.0 645.2 375.0 644.0 376.0C642.8 377.0 639.7 379.6 638.5 380.5C637.3 381.4 637.4 381.2 636.5 381.9C635.6 382.5 634.0 384.1 632.6 384.6C631.2 385.1 629.1 384.8 628.0 384.9C626.9 384.9 627.1 384.9 626.0 385.0C624.9 385.1 622.1 385.4 621.0 385.4C619.9 385.5 619.8 385.0 619.3 385.6C618.8 386.2 618.3 386.9 617.7 389.0C617.1 391.1 616.2 396.7 615.8 399.0C615.4 401.3 615.7 400.2 615.4 403.2C615.1 406.3 614.5 413.4 614.0 418.0C613.5 422.6 612.8 429.2 612.5 432.2C612.2 435.3 612.4 434.6 612.0 437.0C611.6 439.4 610.3 444.5 609.7 447.3C609.1 450.2 608.6 452.4 608.0 455.0C607.4 457.6 606.6 461.2 606.0 463.6C605.4 466.0 604.9 468.1 604.5 470.0C604.1 471.9 603.8 472.5 603.3 475.7C602.8 478.9 601.6 487.5 601.2 490.0C600.8 492.5 601.3 489.3 601.0 491.6C600.7 493.9 600.0 500.7 599.4 504.4C598.8 508.1 598.1 511.6 597.5 515.0C596.9 518.4 596.1 522.8 595.6 525.5C595.1 528.2 594.7 530.5 594.4 532.1C594.1 533.8 594.1 533.8 593.7 536.0C593.3 538.2 592.5 543.6 591.8 546.0C591.1 548.4 590.3 550.8 589.5 551.2C588.7 551.6 587.7 549.9 587.0 548.4C586.3 546.9 585.5 543.6 585.0 542.1C584.5 540.6 584.4 541.4 584.0 539.0C583.6 536.6 582.8 531.0 582.2 527.0C581.6 523.0 580.7 516.4 580.3 514.0C579.9 511.6 580.3 513.9 580.0 512.2C579.7 510.4 579.1 505.8 578.5 503.0C577.9 500.2 576.9 495.9 576.5 494.5C576.1 493.1 576.5 494.5 576.0 494.5C575.5 494.6 574.2 494.7 573.5 494.8C572.8 494.8 572.0 494.9 571.7 494.9C571.4 494.9 572.0 495.2 571.5 494.7C571.0 494.2 569.4 492.5 568.5 491.6C567.6 490.7 566.5 489.5 566.0 489.0C565.5 488.5 566.1 489.1 565.5 488.6C564.9 488.0 563.1 486.2 562.0 485.5C560.9 484.8 559.4 484.5 558.8 484.0C558.2 483.5 558.4 483.1 558.0 482.3C557.6 481.5 557.2 481.6 556.5 479.0C555.8 476.4 554.1 468.5 553.5 466.0C552.9 463.5 553.4 465.8 553.0 463.6C552.6 461.5 551.5 456.5 550.7 452.6C549.9 448.7 548.7 442.7 548.0 439.4C547.3 436.1 547.3 436.3 546.5 432.0C545.7 427.7 543.9 417.6 543.0 412.5C542.1 407.4 541.1 402.3 540.6 400.0C540.1 397.7 540.3 399.0 540.0 398.0C539.7 397.0 539.3 394.7 538.7 393.7C538.1 392.7 536.9 392.1 536.0 391.5C535.1 390.9 534.6 390.6 533.0 390.0C531.4 389.4 527.3 388.0 526.0 387.5C524.7 387.0 526.0 387.5 525.0 387.0C524.0 386.4 520.8 384.9 519.6 384.0C518.4 383.1 518.1 382.0 517.7 381.4C517.3 380.9 517.6 381.1 517.0 380.5C516.4 379.9 515.1 378.0 514.0 377.5C512.9 377.0 511.0 377.2 510.0 377.2C509.0 377.1 509.2 377.1 508.0 377.0C506.8 376.9 503.4 376.6 502.4 376.5C501.4 376.4 503.7 376.7 502.0 376.4C500.3 376.1 493.8 374.8 492.0 374.5C490.2 374.2 492.4 374.6 491.0 374.3C489.6 374.0 484.6 372.9 483.0 372.7C481.4 372.5 482.0 373.0 481.0 373.2C480.0 373.4 477.9 373.9 477.0 374.2C476.1 374.4 476.1 374.3 475.6 374.5C475.1 374.7 474.4 374.9 473.7 375.2C473.0 375.4 471.6 375.9 471.0 376.1C470.4 376.4 470.5 375.5 470.0 376.5C469.5 377.5 468.5 380.8 468.0 382.2C467.5 383.5 467.5 383.6 467.0 385.0C466.5 386.4 465.4 389.8 465.0 391.2C464.6 392.6 464.7 392.9 464.2 393.7C463.7 394.5 462.4 395.8 462.0 396.3C461.6 396.7 462.2 396.3 461.8 396.5C461.4 396.7 459.9 397.3 459.5 397.5C459.1 397.6 459.9 398.8 459.4 397.5C458.9 396.2 457.0 390.9 456.5 389.4C456.0 387.9 456.6 390.1 456.0 388.0C455.4 385.9 453.5 379.6 452.7 376.5C451.9 373.4 451.5 371.1 451.0 368.8C450.5 366.5 450.3 365.1 449.5 362.0C448.7 358.9 446.7 351.9 446.0 349.7C445.3 347.5 446.0 349.6 445.0 348.1C444.0 346.5 441.0 341.6 440.0 340.0C439.0 338.4 439.8 339.6 439.0 338.0C438.2 336.4 435.7 331.4 435.0 330.0C434.3 328.6 435.1 330.1 434.5 329.0C433.9 327.9 432.1 324.1 431.5 323.0C430.9 321.9 431.4 324.1 431.0 322.0C430.6 319.9 429.4 312.3 429.0 310.0C428.6 307.7 429.0 310.5 428.8 307.3C428.6 304.1 427.9 295.7 427.5 290.0C427.1 284.3 426.6 275.1 426.0 272.0C425.4 268.9 424.5 270.7 424.0 270.3C423.5 269.9 424.0 269.6 423.0 269.5C422.0 269.4 419.1 269.7 418.0 269.7C416.9 269.8 416.9 269.8 416.0 269.8C415.1 269.8 413.8 269.7 412.5 269.7C411.2 269.6 409.8 269.8 408.0 269.5C406.2 269.2 402.3 268.1 401.0 267.8C399.7 267.4 400.8 267.8 400.0 267.5C399.2 267.2 397.0 266.2 396.0 265.8C395.0 265.4 394.7 264.9 394.0 265.0C393.3 265.1 392.1 265.9 391.5 266.2C390.9 266.6 390.6 266.0 390.0 267.0C389.4 268.0 388.8 270.3 388.0 272.5C387.2 274.7 385.6 278.8 385.0 280.5C384.4 282.2 384.5 281.8 384.0 283.0C383.5 284.2 382.8 285.9 382.0 288.0C381.2 290.1 379.9 294.1 379.0 296.0C378.1 297.9 377.4 298.8 376.5 300.0C375.6 301.2 374.6 302.9 373.6 303.5C372.6 304.1 371.2 303.7 370.0 303.7C368.8 303.8 367.6 303.9 366.0 304.0C364.4 304.1 361.6 303.7 360.0 304.5C358.4 305.3 357.0 307.9 356.0 309.0C355.0 310.1 354.6 310.6 354.0 311.3C353.4 311.9 353.3 312.3 352.5 313.0C351.7 313.7 349.6 315.1 349.0 315.5C348.4 315.9 349.2 315.4 348.7 315.7C348.2 316.1 346.6 317.5 346.0 318.0C345.4 318.5 345.4 318.2 345.0 318.8C344.6 319.4 343.8 321.3 343.5 322.0C343.2 322.7 343.4 322.2 343.0 322.9C342.6 323.6 342.0 326.4 341.0 326.5C340.0 326.6 338.4 324.1 337.0 323.6C335.6 323.1 332.9 323.4 332.0 323.3C331.1 323.2 332.2 323.3 331.5 323.2C330.8 323.1 328.6 322.9 327.7 322.6C326.8 322.3 326.9 322.1 326.0 321.5C325.1 320.9 323.1 319.9 322.0 318.8C320.9 317.7 319.6 315.4 319.0 314.4C318.4 313.5 318.5 313.1 318.0 313.0C317.5 312.9 316.8 313.4 316.0 313.7C315.2 313.9 313.6 314.5 313.0 314.7C312.4 314.9 312.5 314.9 312.0 315.0C311.5 315.1 311.1 315.2 310.0 315.4C308.9 315.7 306.1 316.2 305.0 316.5C303.9 316.8 304.0 316.8 303.0 317.0C302.0 317.2 300.0 317.2 299.0 318.0C298.0 318.8 297.0 321.1 296.5 322.0C296.0 322.9 296.4 322.3 296.0 323.6C295.6 324.9 294.4 328.6 294.0 330.0C293.6 331.4 293.8 330.8 293.5 332.2C293.2 333.7 292.4 337.3 292.0 339.0C291.6 340.7 291.4 341.1 291.0 342.7C290.6 344.2 289.8 347.5 289.4 348.5C289.0 349.5 289.1 348.6 288.5 348.9C287.9 349.3 286.6 350.6 285.6 350.4C284.6 350.2 283.1 348.4 282.0 347.5C280.9 346.6 280.0 345.6 279.0 344.8C278.0 343.9 277.1 343.1 276.0 342.0C274.9 340.9 273.0 339.0 272.0 338.0C271.0 337.0 271.5 336.8 270.0 336.0C268.5 335.2 264.0 333.7 262.7 333.3C261.4 332.8 263.1 333.3 262.0 333.0C260.9 332.7 257.3 331.8 256.0 331.5C254.7 331.2 255.1 331.4 254.0 331.4C252.9 331.3 250.1 330.8 249.0 331.0C247.9 331.2 247.6 332.0 247.0 332.5C246.4 333.0 246.1 331.9 245.0 334.0C243.9 336.1 241.1 343.2 240.0 345.6C238.9 348.0 238.8 347.7 238.0 349.0C237.2 350.3 235.6 353.4 235.0 354.0C234.4 354.6 234.5 353.3 234.0 352.7C233.5 352.0 232.5 350.6 232.0 350.0C231.5 349.4 231.6 349.6 231.0 348.9C230.4 348.2 228.7 346.3 228.2 345.8C227.7 345.3 228.5 345.5 228.0 345.6C227.5 345.7 226.1 346.0 225.0 346.2C223.9 346.4 221.7 346.9 221.0 347.0C220.3 347.1 221.6 347.0 220.6 347.0C219.6 347.1 216.1 347.4 215.0 347.4C213.9 347.5 215.0 347.8 214.0 347.5C213.0 347.2 210.4 346.0 209.0 345.4C207.6 344.8 206.0 344.1 205.0 343.7C204.0 343.3 204.0 343.4 203.0 343.0C202.0 342.7 199.6 341.9 198.6 341.5C197.6 341.2 197.9 341.4 197.0 341.0C196.1 340.6 194.1 340.3 193.0 339.0C191.9 337.7 191.0 335.7 190.0 333.0C189.0 330.3 187.7 325.1 187.0 322.0C186.3 318.9 186.0 316.2 185.5 313.5C185.0 310.8 184.6 308.5 184.0 305.0C183.4 301.5 182.1 294.1 181.6 291.4C181.1 288.7 181.6 290.3 181.0 288.0C180.4 285.7 179.1 278.8 178.0 277.0C176.9 275.2 175.1 276.6 174.0 277.0C172.9 277.4 171.6 279.1 171.0 279.6C170.4 280.2 170.4 279.4 170.0 280.5C169.6 281.6 168.8 284.8 168.3 286.4C167.8 288.1 167.4 289.3 167.0 291.0C166.6 292.7 166.0 295.1 165.5 297.0C165.0 298.9 164.5 300.8 164.0 303.0C163.5 305.2 163.0 308.1 162.5 310.5C162.0 312.9 161.4 316.0 161.0 318.0C160.6 320.0 160.5 320.6 160.0 323.0C159.5 325.4 158.5 330.3 158.0 333.0C157.5 335.7 157.3 337.1 156.8 339.8C156.3 342.5 155.6 346.8 155.0 350.0C154.4 353.2 153.5 357.6 153.0 360.0C152.5 362.4 152.6 362.4 152.0 365.0C151.4 367.6 150.0 372.3 149.0 376.0C148.0 379.7 146.1 385.8 145.5 388.0C144.9 390.2 145.5 388.1 145.0 389.8C144.5 391.6 143.3 395.5 142.5 399.0C141.7 402.5 140.5 409.3 140.0 412.0C139.5 414.7 139.8 413.3 139.5 415.6C139.2 417.9 138.6 424.4 138.0 426.5C137.4 428.6 136.5 429.0 135.8 429.0C135.1 429.0 134.3 427.2 133.8 426.6C133.3 425.9 133.1 426.3 132.5 425.0C131.9 423.7 130.6 420.0 130.0 418.6C129.4 417.1 129.6 418.4 129.0 416.0C128.4 413.6 126.8 406.3 126.2 403.4C125.6 400.5 125.6 400.7 125.0 398.0C124.4 395.3 123.1 389.6 122.5 386.8C121.9 383.9 121.5 382.1 121.0 380.0C120.5 377.9 120.0 375.8 119.5 373.4C119.0 371.0 118.4 366.5 117.6 365.0C116.8 363.5 115.4 364.1 114.7 363.7C114.0 363.4 113.8 363.2 113.0 363.0C112.2 362.8 110.8 362.6 110.0 362.4C109.2 362.2 108.5 362.3 108.0 362.0C107.5 361.7 107.6 361.6 107.0 360.8C106.4 359.9 104.9 358.9 104.0 357.0C103.1 355.1 101.9 350.8 101.3 348.9C100.7 347.0 100.3 346.0 100.0 345.0C99.7 344.0 99.9 344.5 99.5 342.4C99.1 340.3 98.1 334.8 97.5 331.9C96.9 328.9 96.9 326.5 96.0 324.0C95.1 321.5 93.3 317.2 92.0 316.0C90.7 314.8 89.3 316.2 88.0 316.2C86.7 316.3 85.7 316.3 84.0 316.5C82.3 316.7 78.8 317.5 77.5 317.7C76.2 318.0 76.6 317.8 76.0 318.0C75.4 318.2 74.6 318.7 74.0 319.0C73.4 319.3 72.5 317.5 72.0 320.0C71.5 322.5 71.0 331.2 70.7 334.4C70.4 337.6 70.5 332.7 70.2 340.0C69.9 347.3 69.4 367.2 69.0 380.0C68.6 392.8 68.2 404.0 67.8 420.0C67.4 436.0 66.6 467.5 66.3 480.0C66.0 492.5 66.2 488.4 66.0 498.0C65.8 507.6 65.5 523.7 65.3 540.0C65.1 556.3 64.9 590.4 64.5 600.0C64.1 609.6 64.0 600.0 63.1 600.0C62.2 600.0 60.2 600.0 59.0 600.0C57.8 600.0 56.7 600.0 55.5 600.0C54.3 600.0 52.7 600.0 51.5 600.0C50.3 600.0 48.9 600.0 47.8 600.0C46.7 600.0 45.1 600.0 44.5 600.0C43.9 600.0 44.2 611.2 44.0 600.0C43.8 588.8 43.3 550.8 43.0 530.0C42.7 509.2 42.4 487.6 42.2 470.0C42.0 452.4 41.7 431.2 41.5 420.0C41.3 408.8 41.2 406.4 41.0 400.0C40.8 393.6 40.8 389.6 40.5 380.0C40.2 370.4 39.5 352.8 39.0 340.0C38.5 327.2 37.6 306.4 37.3 300.0z" fill="#d3ebfb" fill-opacity="0.62" stroke="#c5e3f8" stroke-width="0.8" stroke-opacity="0.8"/>
<path d="M38.2 408.0C38.6 404.3 39.9 392.4 41.0 385.0C42.1 377.6 43.9 370.0 45.0 362.0C46.1 354.0 46.9 342.8 48.0 335.0C49.1 327.2 50.1 321.2 51.6 313.0C53.1 304.8 55.6 292.2 57.4 284.0C59.2 275.8 61.6 267.3 63.0 261.5C64.4 255.7 65.2 251.8 66.0 248.0C66.8 244.2 67.0 240.3 67.9 238.0C68.8 235.7 70.3 233.5 71.7 233.5C73.1 233.5 74.5 237.1 76.5 238.0C78.5 238.9 81.6 238.5 84.0 239.0C86.4 239.5 89.9 239.4 91.8 241.0C93.7 242.6 94.4 246.3 95.6 249.0C96.8 251.7 98.2 255.1 99.4 258.0C100.6 260.9 101.6 264.0 103.0 267.0C104.4 270.0 106.4 274.2 108.0 277.0C109.6 279.8 110.8 282.3 112.8 284.4C114.8 286.5 118.4 289.7 120.5 290.0C122.6 290.3 123.9 288.4 126.0 286.0C128.1 283.6 131.3 278.9 133.8 275.0C136.3 271.1 139.7 264.6 141.5 261.5C143.3 258.4 143.5 257.7 145.0 255.7C146.5 253.7 149.1 251.2 151.0 249.0C152.9 246.8 155.0 244.6 156.8 242.0C158.6 239.4 160.7 234.7 162.5 233.0C164.3 231.3 165.8 230.7 168.0 231.5C170.2 232.3 173.8 235.4 176.0 238.0C178.2 240.6 179.8 245.0 181.6 248.0C183.4 251.0 186.1 254.8 187.4 257.0C188.7 259.2 189.1 259.9 190.0 262.0C190.9 264.1 192.0 267.3 193.0 270.0C194.0 272.7 194.4 276.9 196.0 279.0C197.6 281.1 200.9 281.7 203.0 283.0C205.1 284.3 206.9 286.2 209.0 287.0C211.1 287.8 213.9 288.0 216.0 288.0C218.1 288.0 220.1 287.3 222.0 287.0C223.9 286.7 226.2 286.6 228.0 286.0C229.8 285.4 231.4 284.6 233.0 283.0C234.6 281.4 236.4 279.0 238.0 276.0C239.6 273.0 241.6 267.5 243.0 264.0C244.4 260.5 245.7 256.9 247.0 254.0C248.3 251.1 249.9 248.1 251.0 246.0C252.1 243.9 252.9 241.5 254.0 241.0C255.1 240.5 256.7 241.9 258.0 243.0C259.3 244.1 260.6 246.1 262.0 248.0C263.4 249.9 265.2 252.9 267.0 255.0C268.8 257.1 271.1 259.4 273.0 261.0C274.9 262.6 277.1 263.6 279.0 265.0C280.9 266.4 283.2 268.6 285.0 270.0C286.8 271.4 288.4 272.7 290.0 274.0C291.6 275.3 293.4 276.9 295.0 278.0C296.6 279.1 298.2 280.5 300.0 281.0C301.8 281.5 304.1 281.0 306.0 281.0C307.9 281.0 310.1 281.2 312.0 281.0C313.9 280.8 316.2 280.5 318.0 280.0C319.8 279.5 321.4 278.5 323.0 278.0C324.6 277.5 326.2 277.2 328.0 277.0C329.8 276.8 332.1 277.0 334.0 277.0C335.9 277.0 338.4 277.6 340.0 277.0C341.6 276.4 342.7 274.4 344.0 273.0C345.3 271.6 346.7 269.6 348.0 268.0C349.3 266.4 350.4 264.3 352.0 263.0C353.6 261.7 355.9 260.6 358.0 260.0C360.1 259.4 362.8 259.5 365.0 259.0C367.2 258.5 369.9 257.8 372.0 257.0C374.1 256.2 375.9 254.8 378.0 254.0C380.1 253.2 382.8 252.3 385.0 252.0C387.2 251.7 389.6 251.8 392.0 252.0C394.4 252.2 397.1 252.4 400.0 253.0C402.9 253.6 407.1 255.2 410.0 256.0C412.9 256.8 415.8 257.5 418.0 258.0C420.2 258.5 422.1 258.4 424.0 259.0C425.9 259.6 428.1 260.2 430.0 262.0C431.9 263.8 434.2 267.6 436.0 270.0C437.8 272.4 439.2 274.1 441.0 277.0C442.8 279.9 445.2 284.3 447.0 288.0C448.8 291.7 450.5 296.5 452.0 300.0C453.5 303.5 454.6 306.3 456.5 310.0C458.4 313.7 461.8 319.6 464.0 323.0C466.2 326.4 468.1 328.6 470.0 331.0C471.9 333.4 473.4 336.2 475.6 338.0C477.8 339.8 480.9 340.7 484.0 342.0C487.1 343.3 491.5 344.9 494.7 346.0C497.9 347.1 500.9 348.1 504.0 349.0C507.1 349.9 511.1 350.8 514.0 351.6C516.9 352.4 519.6 353.1 522.0 354.0C524.4 354.9 526.8 355.8 529.0 357.4C531.2 359.0 533.8 361.9 536.0 364.0C538.2 366.1 540.4 367.8 542.5 370.7C544.6 373.6 546.8 377.8 549.0 382.0C551.2 386.2 554.1 393.3 556.0 397.0C557.9 400.7 559.4 402.5 561.0 405.0C562.6 407.5 564.6 410.3 566.0 412.5C567.4 414.7 568.6 417.2 570.0 419.0C571.4 420.8 573.3 423.5 574.6 424.0C575.9 424.5 577.0 423.0 578.0 422.0C579.0 421.0 579.9 419.9 581.0 418.0C582.1 416.1 583.4 413.4 585.0 410.0C586.6 406.6 589.6 400.2 591.0 397.0C592.4 393.8 593.1 392.1 594.0 390.0C594.9 387.9 595.6 385.9 596.6 384.0C597.6 382.1 598.5 379.9 600.0 378.0C601.5 376.1 604.2 374.6 606.0 372.0C607.8 369.4 609.2 365.0 611.0 362.0C612.8 359.0 614.9 354.4 617.0 353.0C619.1 351.6 621.0 353.2 624.0 353.5C627.0 353.8 632.5 355.4 636.0 355.0C639.5 354.6 642.9 352.5 646.0 351.0C649.1 349.5 652.6 346.1 655.6 345.4C658.6 344.7 661.9 346.2 665.0 346.5C668.1 346.8 671.8 347.4 675.0 347.4C678.2 347.4 682.0 346.8 685.0 346.5C688.0 346.2 691.3 345.9 694.0 345.4C696.7 344.9 699.6 344.1 702.0 343.5C704.4 342.9 707.1 342.6 709.0 341.6C710.9 340.6 712.4 338.5 714.0 337.0C715.6 335.5 717.4 333.8 718.7 332.0C720.0 330.2 720.8 328.2 722.0 326.0C723.2 323.8 724.4 321.6 726.0 318.0C727.6 314.4 730.7 306.6 732.0 303.4C733.3 300.2 733.3 300.0 734.4 298.0C735.5 296.0 737.5 293.1 739.0 291.0C740.5 288.9 742.4 286.6 744.0 284.7C745.6 282.8 747.2 280.9 749.0 279.0C750.8 277.1 753.5 274.4 755.4 273.0C757.3 271.6 759.1 270.9 761.0 270.0C762.9 269.1 765.1 268.0 767.0 267.5C768.9 267.0 770.9 267.0 773.0 266.8C775.1 266.6 777.6 266.0 780.0 266.5C782.4 267.0 785.5 268.6 788.0 270.0C790.5 271.4 793.5 273.5 795.6 275.0C797.7 276.5 799.2 277.9 801.0 279.5C802.8 281.1 805.1 282.9 807.0 284.7C808.9 286.5 811.2 288.7 813.0 290.5C814.8 292.3 816.6 294.6 818.5 296.0C820.4 297.4 822.8 298.1 825.0 299.0C827.2 299.9 829.6 300.8 832.0 301.5C834.4 302.2 836.6 302.8 840.0 303.5C843.4 304.2 849.5 305.2 853.0 305.7C856.5 306.2 859.3 306.2 862.0 306.5C864.7 306.8 867.6 307.0 870.0 307.5C872.4 308.0 874.8 308.9 877.0 309.5C879.2 310.1 881.7 310.7 883.5 311.5C885.3 312.3 886.5 313.3 888.0 314.5C889.5 315.7 891.1 317.3 893.0 319.0C894.9 320.7 897.6 323.3 900.0 325.0C902.4 326.7 905.4 328.3 908.0 329.5C910.6 330.7 913.0 331.7 916.0 332.5C919.0 333.3 925.1 334.2 926.8 334.5" fill="none" stroke="#dddbd8" stroke-width="1.1"/>
<path d="M213.0 281.6C214.4 280.4 219.0 276.5 222.0 274.0C225.0 271.5 229.1 268.2 232.0 266.0C234.9 263.8 237.5 261.7 240.0 260.0C242.5 258.3 244.8 255.8 247.4 255.2C250.0 254.6 253.0 255.9 256.0 256.5C259.0 257.1 262.5 258.1 266.0 259.0C269.5 259.9 274.2 261.3 278.0 262.0C281.8 262.7 285.7 263.1 290.0 263.5C294.3 263.9 299.9 264.9 304.7 264.8C309.5 264.7 315.2 263.7 320.0 263.0C324.8 262.3 330.8 260.7 335.0 260.6C339.2 260.5 342.3 261.8 346.0 262.5C349.7 263.2 353.4 264.4 358.0 264.8C362.6 265.2 369.9 265.1 375.0 265.2C380.1 265.3 385.2 265.4 390.0 265.4C394.8 265.4 400.2 265.3 405.0 265.0C409.8 264.7 415.4 264.0 420.0 263.5C424.6 263.0 429.5 261.4 433.5 261.6C437.5 261.8 441.3 263.3 445.0 264.5C448.7 265.7 452.8 266.7 456.5 268.8C460.2 270.9 464.6 275.6 468.0 277.4C471.4 279.2 475.0 279.3 478.0 280.0C481.0 280.7 484.1 281.1 487.0 282.0C489.9 282.9 493.0 284.4 496.0 285.5C499.0 286.6 502.2 287.8 506.0 289.0C509.8 290.2 515.7 291.8 520.0 293.0C524.3 294.2 529.6 295.2 533.0 296.5C536.4 297.8 538.6 299.5 541.0 301.0C543.4 302.5 545.0 304.1 548.0 306.0C551.0 307.9 556.2 310.3 560.0 312.6C563.8 314.9 568.1 318.3 571.5 320.6C574.9 322.9 577.1 324.5 581.0 327.0C584.9 329.5 592.2 333.7 596.0 336.0C599.8 338.3 602.2 339.7 605.0 341.5C607.8 343.3 610.0 345.4 613.5 347.4C617.0 349.4 623.2 352.2 627.0 354.0C630.8 355.8 634.0 357.2 637.0 358.5C640.0 359.8 643.0 361.4 646.0 362.3C649.0 363.2 652.6 363.6 656.0 364.0C659.4 364.4 662.5 364.8 667.0 365.0C671.5 365.2 678.5 365.4 684.0 365.0C689.5 364.6 696.9 363.2 701.5 362.7C706.1 362.2 709.7 362.8 713.0 362.0C716.3 361.2 719.0 359.8 722.0 358.0C725.0 356.2 729.0 352.8 732.0 351.0C735.0 349.2 738.5 348.1 741.0 347.0C743.5 345.9 745.2 345.5 747.8 344.0C750.4 342.5 753.9 339.6 757.0 337.5C760.1 335.4 763.3 333.2 767.0 330.6C770.7 328.0 776.3 323.3 780.0 321.0C783.7 318.7 786.9 317.7 790.0 316.5C793.1 315.3 796.4 314.1 799.4 313.4C802.4 312.7 805.9 312.4 809.0 312.0C812.1 311.6 815.5 311.4 818.5 311.0C821.5 310.6 824.9 310.0 828.0 309.5C831.1 309.0 834.7 308.3 837.7 307.7C840.7 307.1 843.9 306.2 847.0 305.5C850.1 304.8 853.6 303.7 856.8 303.2C860.0 302.7 863.9 302.8 867.0 302.5C870.1 302.2 871.7 301.8 876.0 301.5C880.3 301.2 888.6 300.8 894.0 300.6C899.4 300.4 904.8 300.4 910.0 300.3C915.2 300.2 924.1 300.2 926.8 300.2" fill="none" stroke="#aad6f6" stroke-width="1.25"/>
<path d="M3 300.5H985.5" stroke="#f4544f" stroke-width="1.15" stroke-dasharray="4 5.02" stroke-dashoffset="1.5" fill="none"/>
<path d="M3 312.5H985.5" stroke="#f4544f" stroke-width="1.15" stroke-dasharray="4 5.02" stroke-dashoffset="1.5" fill="none"/>
<path d="M3 322.5H985.5" stroke="#f4544f" stroke-width="1.15" stroke-dasharray="4 5.02" stroke-dashoffset="1.5" fill="none"/>
<path d="M3 331.5H985.5" stroke="#f4544f" stroke-width="1.15" stroke-dasharray="4 5.02" stroke-dashoffset="1.5" fill="none"/>
<rect x="51.5" y="328.5" width="909" height="13" fill="#777" fill-opacity="0.14"/>
<path d="M3 339.5H985.5" stroke="#f0504d" stroke-width="0.9" fill="none"/>
<path d="M3 340.5H985.5" stroke="#fff" stroke-width="1" fill="none"/>
<path d="M3 340.5H985.5" stroke="#0c0ce0" stroke-width="1.05" stroke-dasharray="4.3 3.7" fill="none"/>
<path d="M3 342.3H985.5" stroke="#2a9b6c" stroke-width="1.3" fill="none"/>
<rect x="51.5" y="328.5" width="909" height="13" fill="none" stroke="#2a2a2a" stroke-width="1"/>
<rect x="839" y="300.6" width="3.6" height="11.8" fill="none" stroke="#f0504d" stroke-width="0.8"/>
<path d="M2.45 584v-1.6h2.1v1.6zM4.45 584v-2.5h2.1v2.5zM7.45 584v-8.0h2.1v8.0zM9.45 584v-3.0h2.1v3.0zM18.45 584v-2.6h2.1v2.6zM20.45 584v-3.0h2.1v3.0zM22.45 584v-8.2h2.1v8.2zM24.45 584v-25.1h2.1v25.1zM26.45 584v-57.0h2.1v57.0zM28.45 584v-68.0h2.1v68.0zM31.45 584v-57.0h2.1v57.0zM39.45 584v-17.1h2.1v17.1zM41.45 584v-10.8h2.1v10.8zM48.45 584v-15.2h2.1v15.2zM50.45 584v-24.0h2.1v24.0zM52.45 584v-18.7h2.1v18.7zM54.45 584v-24.0h2.1v24.0zM68.45 584v-4.3h2.1v4.3zM70.45 584v-3.1h2.1v3.1zM72.45 584v-4.9h2.1v4.9zM74.45 584v-2.4h2.1v2.4zM76.45 584v-3.1h2.1v3.1zM81.45 584v-3.6h2.1v3.6zM85.45 584v-4.2h2.1v4.2zM89.45 584v-4.9h2.1v4.9zM98.45 584v-5.0h2.1v5.0zM100.45 584v-5.1h2.1v5.1zM107.45 584v-3.5h2.1v3.5zM115.45 584v-7.5h2.1v7.5zM118.45 584v-25.0h2.1v25.0zM120.45 584v-11.3h2.1v11.3zM122.45 584v-6.3h2.1v6.3zM124.45 584v-6.0h2.1v6.0zM126.45 584v-4.0h2.1v4.0zM133.45 584v-2.3h2.1v2.3zM135.45 584v-3.1h2.1v3.1zM150.45 584v-4.9h2.1v4.9zM152.45 584v-9.0h2.1v9.0zM168.45 584v-2.2h2.1v2.2zM170.45 584v-1.3h2.1v1.3zM178.45 584v-1.6h2.1v1.6zM194.45 584v-3.1h2.1v3.1zM196.45 584v-7.7h2.1v7.7zM198.45 584v-10.0h2.1v10.0zM200.45 584v-3.4h2.1v3.4zM207.45 584v-4.2h2.1v4.2zM209.45 584v-4.3h2.1v4.3zM211.45 584v-13.8h2.1v13.8zM213.45 584v-18.0h2.1v18.0zM215.45 584v-6.5h2.1v6.5zM228.45 584v-12.0h2.1v12.0zM231.45 584v-9.7h2.1v9.7zM233.45 584v-23.0h2.1v23.0zM239.45 584v-7.6h2.1v7.6zM241.45 584v-6.8h2.1v6.8zM244.45 584v-14.7h2.1v14.7zM255.45 584v-9.4h2.1v9.4zM257.45 584v-7.0h2.1v7.0zM259.45 584v-4.8h2.1v4.8zM261.45 584v-3.8h2.1v3.8zM263.45 584v-6.9h2.1v6.9zM265.45 584v-8.0h2.1v8.0zM274.45 584v-4.9h2.1v4.9zM276.45 584v-5.3h2.1v5.3zM278.45 584v-3.5h2.1v3.5zM298.45 584v-6.4h2.1v6.4zM300.45 584v-7.9h2.1v7.9zM305.45 584v-5.4h2.1v5.4zM309.45 584v-15.0h2.1v15.0zM311.45 584v-10.2h2.1v10.2zM315.45 584v-9.6h2.1v9.6zM318.45 584v-18.0h2.1v18.0zM320.45 584v-11.0h2.1v11.0zM326.45 584v-6.4h2.1v6.4zM337.45 584v-12.4h2.1v12.4zM339.45 584v-13.1h2.1v13.1zM342.45 584v-14.1h2.1v14.1zM344.45 584v-38.0h2.1v38.0zM346.45 584v-38.0h2.1v38.0zM365.45 584v-12.0h2.1v12.0zM368.45 584v-8.8h2.1v8.8zM370.45 584v-7.7h2.1v7.7zM372.45 584v-4.9h2.1v4.9zM383.45 584v-12.0h2.1v12.0zM385.45 584v-9.0h2.1v9.0zM387.45 584v-12.0h2.1v12.0zM389.45 584v-5.6h2.1v5.6zM394.45 584v-8.0h2.1v8.0zM407.45 584v-1.6h2.1v1.6zM409.45 584v-1.5h2.1v1.5zM415.45 584v-1.7h2.1v1.7zM433.45 584v-8.8h2.1v8.8zM435.45 584v-12.4h2.1v12.4zM444.45 584v-5.0h2.1v5.0zM452.45 584v-4.2h2.1v4.2zM455.45 584v-5.7h2.1v5.7zM457.45 584v-7.0h2.1v7.0zM459.45 584v-2.7h2.1v2.7zM470.45 584v-2.9h2.1v2.9zM479.45 584v-10.9h2.1v10.9zM487.45 584v-8.0h2.1v8.0zM494.45 584v-3.2h2.1v3.2zM496.45 584v-3.3h2.1v3.3zM498.45 584v-1.5h2.1v1.5zM500.45 584v-2.6h2.1v2.6zM502.45 584v-1.7h2.1v1.7zM505.45 584v-1.2h2.1v1.2zM524.45 584v-1.5h2.1v1.5zM526.45 584v-1.2h2.1v1.2zM531.45 584v-1.7h2.1v1.7zM548.45 584v-1.5h2.1v1.5zM555.45 584v-1.9h2.1v1.9zM557.45 584v-8.0h2.1v8.0zM559.45 584v-2.8h2.1v2.8zM572.45 584v-13.5h2.1v13.5zM574.45 584v-26.0h2.1v26.0zM579.45 584v-11.0h2.1v11.0zM585.45 584v-3.3h2.1v3.3zM587.45 584v-3.6h2.1v3.6zM589.45 584v-16.0h2.1v16.0zM598.45 584v-2.3h2.1v2.3zM600.45 584v-2.1h2.1v2.1zM609.45 584v-1.8h2.1v1.8zM618.45 584v-0.8h2.1v0.8zM620.45 584v-0.9h2.1v0.9zM622.45 584v-1.2h2.1v1.2zM626.45 584v-1.1h2.1v1.1zM631.45 584v-1.2h2.1v1.2zM633.45 584v-0.9h2.1v0.9zM635.45 584v-1.1h2.1v1.1zM639.45 584v-1.0h2.1v1.0zM642.45 584v-0.8h2.1v0.8zM644.45 584v-1.0h2.1v1.0zM650.45 584v-1.2h2.1v1.2zM668.45 584v-1.3h2.1v1.3zM670.45 584v-1.1h2.1v1.1zM672.45 584v-1.3h2.1v1.3zM676.45 584v-1.4h2.1v1.4zM679.45 584v-0.9h2.1v0.9zM683.45 584v-0.8h2.1v0.8zM685.45 584v-1.0h2.1v1.0zM687.45 584v-1.0h2.1v1.0zM689.45 584v-1.2h2.1v1.2zM700.45 584v-0.9h2.1v0.9zM707.45 584v-7.0h2.1v7.0zM711.45 584v-7.0h2.1v7.0zM713.45 584v-3.8h2.1v3.8zM720.45 584v-2.0h2.1v2.0zM724.45 584v-7.0h2.1v7.0zM726.45 584v-2.3h2.1v2.3zM731.45 584v-1.5h2.1v1.5zM742.45 584v-1.0h2.1v1.0zM746.45 584v-1.6h2.1v1.6zM748.45 584v-1.2h2.1v1.2zM750.45 584v-1.5h2.1v1.5zM753.45 584v-1.7h2.1v1.7zM755.45 584v-0.9h2.1v0.9zM757.45 584v-1.2h2.1v1.2zM759.45 584v-1.3h2.1v1.3zM770.45 584v-4.5h2.1v4.5zM772.45 584v-1.1h2.1v1.1zM796.45 584v-1.3h2.1v1.3zM798.45 584v-1.4h2.1v1.4zM807.45 584v-1.6h2.1v1.6zM809.45 584v-1.6h2.1v1.6zM813.45 584v-1.3h2.1v1.3zM822.45 584v-2.1h2.1v2.1zM824.45 584v-1.5h2.1v1.5zM826.45 584v-1.3h2.1v1.3zM831.45 584v-2.0h2.1v2.0zM833.45 584v-1.1h2.1v1.1zM837.45 584v-2.2h2.1v2.2zM839.45 584v-2.1h2.1v2.1zM842.45 584v-2.1h2.1v2.1zM844.45 584v-5.5h2.1v5.5zM846.45 584v-1.9h2.1v1.9zM855.45 584v-2.0h2.1v2.0zM857.45 584v-1.6h2.1v1.6zM861.45 584v-1.5h2.1v1.5zM870.45 584v-12.5h2.1v12.5zM881.45 584v-1.8h2.1v1.8zM887.45 584v-4.5h2.1v4.5zM889.45 584v-1.6h2.1v1.6zM892.45 584v-1.7h2.1v1.7zM898.45 584v-5.5h2.1v5.5zM900.45 584v-2.3h2.1v2.3zM909.45 584v-5.5h2.1v5.5zM911.45 584v-1.4h2.1v1.4zM922.45 584v-1.9h2.1v1.9z" fill="#79d3a6"/>
<path d="M11.45 584v-1.9h2.1v1.9zM13.45 584v-3.0h2.1v3.0zM15.45 584v-2.2h2.1v2.2zM33.45 584v-17.3h2.1v17.3zM35.45 584v-14.2h2.1v14.2zM37.45 584v-24.4h2.1v24.4zM44.45 584v-22.0h2.1v22.0zM46.45 584v-22.0h2.1v22.0zM57.45 584v-19.1h2.1v19.1zM59.45 584v-11.3h2.1v11.3zM61.45 584v-8.7h2.1v8.7zM63.45 584v-2.8h2.1v2.8zM65.45 584v-5.6h2.1v5.6zM78.45 584v-3.5h2.1v3.5zM83.45 584v-3.5h2.1v3.5zM87.45 584v-5.9h2.1v5.9zM91.45 584v-5.3h2.1v5.3zM94.45 584v-9.0h2.1v9.0zM96.45 584v-7.8h2.1v7.8zM102.45 584v-4.8h2.1v4.8zM105.45 584v-4.5h2.1v4.5zM109.45 584v-3.9h2.1v3.9zM111.45 584v-4.8h2.1v4.8zM113.45 584v-6.3h2.1v6.3zM128.45 584v-6.4h2.1v6.4zM131.45 584v-6.3h2.1v6.3zM137.45 584v-3.1h2.1v3.1zM139.45 584v-3.7h2.1v3.7zM141.45 584v-2.8h2.1v2.8zM144.45 584v-2.8h2.1v2.8zM146.45 584v-3.2h2.1v3.2zM148.45 584v-4.0h2.1v4.0zM155.45 584v-4.4h2.1v4.4zM157.45 584v-2.4h2.1v2.4zM159.45 584v-3.9h2.1v3.9zM161.45 584v-2.6h2.1v2.6zM163.45 584v-2.8h2.1v2.8zM165.45 584v-2.8h2.1v2.8zM172.45 584v-2.1h2.1v2.1zM174.45 584v-1.8h2.1v1.8zM176.45 584v-1.3h2.1v1.3zM181.45 584v-2.3h2.1v2.3zM183.45 584v-1.7h2.1v1.7zM185.45 584v-1.4h2.1v1.4zM187.45 584v-1.9h2.1v1.9zM189.45 584v-1.6h2.1v1.6zM191.45 584v-2.3h2.1v2.3zM202.45 584v-4.8h2.1v4.8zM205.45 584v-9.0h2.1v9.0zM218.45 584v-5.2h2.1v5.2zM220.45 584v-5.1h2.1v5.1zM222.45 584v-5.9h2.1v5.9zM224.45 584v-6.5h2.1v6.5zM226.45 584v-7.7h2.1v7.7zM235.45 584v-14.2h2.1v14.2zM237.45 584v-20.7h2.1v20.7zM246.45 584v-22.0h2.1v22.0zM248.45 584v-19.1h2.1v19.1zM250.45 584v-11.9h2.1v11.9zM252.45 584v-22.0h2.1v22.0zM268.45 584v-5.5h2.1v5.5zM270.45 584v-5.7h2.1v5.7zM272.45 584v-3.4h2.1v3.4zM281.45 584v-3.9h2.1v3.9zM283.45 584v-5.5h2.1v5.5zM285.45 584v-12.0h2.1v12.0zM287.45 584v-5.2h2.1v5.2zM289.45 584v-3.6h2.1v3.6zM292.45 584v-5.3h2.1v5.3zM294.45 584v-3.7h2.1v3.7zM296.45 584v-4.4h2.1v4.4zM302.45 584v-4.2h2.1v4.2zM307.45 584v-4.7h2.1v4.7zM313.45 584v-6.9h2.1v6.9zM322.45 584v-8.7h2.1v8.7zM324.45 584v-7.5h2.1v7.5zM328.45 584v-25.0h2.1v25.0zM331.45 584v-15.0h2.1v15.0zM333.45 584v-9.6h2.1v9.6zM335.45 584v-10.7h2.1v10.7zM348.45 584v-17.4h2.1v17.4zM350.45 584v-9.2h2.1v9.2zM352.45 584v-10.3h2.1v10.3zM355.45 584v-7.1h2.1v7.1zM357.45 584v-7.1h2.1v7.1zM359.45 584v-7.3h2.1v7.3zM361.45 584v-9.4h2.1v9.4zM363.45 584v-6.9h2.1v6.9zM374.45 584v-7.5h2.1v7.5zM376.45 584v-3.3h2.1v3.3zM378.45 584v-4.2h2.1v4.2zM381.45 584v-8.9h2.1v8.9zM392.45 584v-7.1h2.1v7.1zM396.45 584v-8.0h2.1v8.0zM398.45 584v-5.3h2.1v5.3zM400.45 584v-6.5h2.1v6.5zM402.45 584v-8.0h2.1v8.0zM405.45 584v-2.3h2.1v2.3zM411.45 584v-2.3h2.1v2.3zM413.45 584v-1.9h2.1v1.9zM418.45 584v-2.8h2.1v2.8zM420.45 584v-2.6h2.1v2.6zM422.45 584v-5.3h2.1v5.3zM424.45 584v-5.8h2.1v5.8zM426.45 584v-20.0h2.1v20.0zM429.45 584v-20.0h2.1v20.0zM431.45 584v-10.1h2.1v10.1zM437.45 584v-20.0h2.1v20.0zM439.45 584v-6.6h2.1v6.6zM442.45 584v-5.4h2.1v5.4zM446.45 584v-8.7h2.1v8.7zM448.45 584v-11.0h2.1v11.0zM450.45 584v-3.9h2.1v3.9zM461.45 584v-2.1h2.1v2.1zM463.45 584v-2.1h2.1v2.1zM465.45 584v-2.8h2.1v2.8zM468.45 584v-2.3h2.1v2.3zM472.45 584v-4.8h2.1v4.8zM474.45 584v-10.1h2.1v10.1zM476.45 584v-22.0h2.1v22.0zM481.45 584v-5.4h2.1v5.4zM483.45 584v-5.5h2.1v5.5zM485.45 584v-4.9h2.1v4.9zM489.45 584v-2.6h2.1v2.6zM492.45 584v-2.1h2.1v2.1zM507.45 584v-1.3h2.1v1.3zM509.45 584v-1.2h2.1v1.2zM511.45 584v-1.0h2.1v1.0zM513.45 584v-0.9h2.1v0.9zM515.45 584v-0.9h2.1v0.9zM518.45 584v-1.4h2.1v1.4zM520.45 584v-1.2h2.1v1.2zM522.45 584v-0.9h2.1v0.9zM529.45 584v-1.3h2.1v1.3zM533.45 584v-1.6h2.1v1.6zM535.45 584v-2.3h2.1v2.3zM537.45 584v-1.9h2.1v1.9zM539.45 584v-2.8h2.1v2.8zM542.45 584v-1.5h2.1v1.5zM544.45 584v-1.9h2.1v1.9zM546.45 584v-1.5h2.1v1.5zM550.45 584v-1.2h2.1v1.2zM552.45 584v-1.2h2.1v1.2zM561.45 584v-9.0h2.1v9.0zM563.45 584v-4.2h2.1v4.2zM565.45 584v-2.3h2.1v2.3zM568.45 584v-4.4h2.1v4.4zM570.45 584v-7.2h2.1v7.2zM576.45 584v-5.3h2.1v5.3zM581.45 584v-8.7h2.1v8.7zM583.45 584v-3.5h2.1v3.5zM592.45 584v-4.3h2.1v4.3zM594.45 584v-8.0h2.1v8.0zM596.45 584v-2.1h2.1v2.1zM602.45 584v-1.4h2.1v1.4zM605.45 584v-1.0h2.1v1.0zM607.45 584v-1.4h2.1v1.4zM611.45 584v-4.0h2.1v4.0zM613.45 584v-1.0h2.1v1.0zM616.45 584v-0.8h2.1v0.8zM624.45 584v-1.0h2.1v1.0zM629.45 584v-0.8h2.1v0.8zM637.45 584v-1.3h2.1v1.3zM646.45 584v-1.1h2.1v1.1zM648.45 584v-0.9h2.1v0.9zM652.45 584v-1.1h2.1v1.1zM655.45 584v-1.2h2.1v1.2zM657.45 584v-0.8h2.1v0.8zM659.45 584v-0.8h2.1v0.8zM661.45 584v-1.0h2.1v1.0zM663.45 584v-0.8h2.1v0.8zM666.45 584v-0.8h2.1v0.8zM674.45 584v-0.8h2.1v0.8zM681.45 584v-0.8h2.1v0.8zM692.45 584v-0.8h2.1v0.8zM694.45 584v-1.0h2.1v1.0zM696.45 584v-0.9h2.1v0.9zM698.45 584v-0.8h2.1v0.8zM702.45 584v-1.1h2.1v1.1zM705.45 584v-2.5h2.1v2.5zM709.45 584v-3.8h2.1v3.8zM716.45 584v-7.0h2.1v7.0zM718.45 584v-2.5h2.1v2.5zM722.45 584v-1.5h2.1v1.5zM729.45 584v-2.3h2.1v2.3zM733.45 584v-1.8h2.1v1.8zM735.45 584v-1.1h2.1v1.1zM737.45 584v-0.9h2.1v0.9zM739.45 584v-1.9h2.1v1.9zM744.45 584v-1.9h2.1v1.9zM761.45 584v-1.4h2.1v1.4zM763.45 584v-1.5h2.1v1.5zM766.45 584v-1.6h2.1v1.6zM768.45 584v-2.7h2.1v2.7zM774.45 584v-1.0h2.1v1.0zM776.45 584v-1.6h2.1v1.6zM779.45 584v-1.5h2.1v1.5zM781.45 584v-1.1h2.1v1.1zM783.45 584v-1.6h2.1v1.6zM785.45 584v-1.3h2.1v1.3zM787.45 584v-1.3h2.1v1.3zM789.45 584v-1.1h2.1v1.1zM792.45 584v-1.0h2.1v1.0zM794.45 584v-1.4h2.1v1.4zM800.45 584v-1.3h2.1v1.3zM803.45 584v-1.3h2.1v1.3zM805.45 584v-1.4h2.1v1.4zM811.45 584v-1.5h2.1v1.5zM816.45 584v-1.5h2.1v1.5zM818.45 584v-1.6h2.1v1.6zM820.45 584v-1.4h2.1v1.4zM829.45 584v-2.0h2.1v2.0zM835.45 584v-1.7h2.1v1.7zM848.45 584v-1.9h2.1v1.9zM850.45 584v-2.1h2.1v2.1zM853.45 584v-1.6h2.1v1.6zM859.45 584v-1.1h2.1v1.1zM863.45 584v-1.6h2.1v1.6zM866.45 584v-1.2h2.1v1.2zM868.45 584v-1.6h2.1v1.6zM872.45 584v-3.0h2.1v3.0zM874.45 584v-1.7h2.1v1.7zM876.45 584v-1.2h2.1v1.2zM879.45 584v-1.7h2.1v1.7zM883.45 584v-1.7h2.1v1.7zM885.45 584v-1.9h2.1v1.9zM894.45 584v-1.2h2.1v1.2zM896.45 584v-3.4h2.1v3.4zM903.45 584v-2.7h2.1v2.7zM905.45 584v-1.8h2.1v1.8zM907.45 584v-2.6h2.1v2.6zM913.45 584v-2.1h2.1v2.1zM916.45 584v-1.4h2.1v1.4zM918.45 584v-1.4h2.1v1.4zM920.45 584v-1.4h2.1v1.4zM924.45 584v-1.0h2.1v1.0z" fill="#f59591"/>
<path d="M12.5 494.3V498.3M14.5 494.1V506.2M16.5 501.7V521.1M34.5 179.0V286.0M36.5 211.0V272.0M38.5 242.0V287.0M45.5 208.0V236.4M47.5 229.8V253.2M58.5 148.3V182.2M60.5 167.4V207.0M62.5 195.8V218.8M64.5 214.3V248.5M66.5 248.0V299.0M79.5 245.2V257.7M84.5 241.0V258.5M88.5 246.1V258.7M92.5 237.7V266.1M95.5 256.4V309.7M97.5 318.0V363.0M103.5 295.8V316.6M106.5 304.9V328.4M110.5 309.6V323.7M112.5 318.1V333.8M114.5 318.1V337.9M129.5 189.0V206.7M132.5 201.2V227.6M138.5 209.8V233.8M140.5 220.5V250.1M142.5 236.9V252.5M145.5 243.0V262.2M147.5 248.9V259.6M149.5 239.4V258.4M156.5 227.6V230.0M158.5 227.2V235.4M160.5 229.7V247.9M162.5 240.4V247.8M164.5 243.1V252.5M166.5 240.8V257.3M173.5 236.6V249.3M175.5 239.5V250.9M177.5 249.3V259.9M182.5 251.7V261.6M184.5 258.5V280.8M186.5 268.0V298.1M188.5 290.8V315.9M190.5 307.4V322.1M192.5 313.0V331.5M203.5 295.6V307.8M206.5 304.7V316.8M219.5 233.1V241.6M221.5 237.8V252.9M223.5 249.1V258.7M225.5 246.9V263.9M227.5 253.2V268.7M236.5 206.5V227.1M238.5 220.3V230.0M247.5 189.9V206.0M249.5 200.1V225.3M251.5 220.9V247.0M253.5 238.0V341.0M269.5 240.2V252.4M271.5 241.9V271.5M273.5 265.3V278.6M282.5 256.9V266.3M284.5 256.7V271.8M286.5 268.8V291.3M288.5 276.3V288.3M290.5 284.6V291.6M293.5 288.8V302.7M295.5 299.3V312.9M297.5 301.5V312.7M303.5 273.5V289.8M308.5 278.3V286.6M314.5 266.4V279.1M323.5 231.9V247.9M325.5 241.7V253.0M329.5 247.1V259.6M332.5 256.3V283.5M334.5 280.0V298.6M336.5 286.4V308.8M349.5 207.0V236.0M351.5 232.1V240.8M353.5 239.7V243.0M356.5 241.0V247.0M358.5 244.8V253.6M360.5 244.8V258.0M362.5 250.0V258.8M364.5 248.7V266.4M375.5 234.0V243.9M377.5 239.5V256.3M379.5 251.0V262.1M382.5 255.2V261.3M393.5 243.5V252.1M397.5 248.1V250.3M399.5 247.0V262.5M401.5 257.7V265.2M403.5 260.7V265.2M406.5 258.7V270.6M412.5 257.6V261.0M414.5 256.2V266.6M419.5 257.3V264.6M421.5 255.5V263.5M423.5 257.0V271.9M425.5 261.5V271.6M427.5 265.3V290.5M430.5 276.0V324.0M432.5 316.1V330.7M438.5 308.8V319.0M440.5 311.5V329.5M443.5 328.0V339.6M447.5 322.1V336.3M449.5 335.7V350.4M451.5 344.0V358.6M462.5 332.2V345.4M464.5 338.7V344.5M466.5 337.5V350.6M469.5 348.7V352.8M473.5 345.8V357.2M475.5 348.0V408.0M477.5 361.5V375.8M482.5 326.7V342.0M484.5 334.3V342.3M486.5 339.0V346.2M490.5 332.4V357.3M493.5 352.6V363.5M508.5 342.8V359.2M510.5 352.2V364.1M512.5 362.2V374.4M514.5 364.5V373.9M516.5 372.5V380.2M519.5 374.0V380.1M521.5 377.1V381.9M523.5 377.6V385.6M530.5 367.9V372.0M534.5 368.2V379.3M536.5 373.8V385.6M538.5 375.8V391.3M540.5 389.8V406.5M543.5 404.5V423.1M545.5 417.4V445.3M547.5 443.0V476.5M551.5 447.0V457.1M553.5 449.2V462.5M562.5 396.0V408.9M564.5 408.7V422.5M566.5 416.6V426.9M569.5 422.2V443.5M571.5 439.8V454.0M577.5 328.3V345.0M582.5 327.0V335.0M584.5 331.3V341.1M593.5 323.7V338.0M595.5 335.7V367.2M597.5 361.5V370.6M603.5 363.0V372.7M606.5 367.7V375.1M608.5 366.3V374.2M612.5 343.8V359.6M614.5 346.5V358.1M617.5 352.1V358.1M625.5 343.4V344.9M630.5 341.9V345.7M638.5 341.7V347.0M647.5 331.1V338.3M649.5 335.5V345.8M653.5 341.2V344.4M656.5 342.2V348.1M658.5 346.4V356.6M660.5 353.5V357.5M662.5 353.2V364.7M664.5 363.7V366.7M667.5 364.0V376.1M675.5 341.2V347.9M682.5 336.5V343.3M693.5 334.0V336.0M695.5 333.6V339.8M697.5 338.0V343.1M699.5 339.7V342.6M703.5 339.3V347.0M706.5 342.8V344.9M710.5 329.8V336.6M717.5 278.2V285.0M719.5 280.2V286.8M723.5 279.8V287.1M730.5 252.9V260.5M734.5 254.2V260.6M736.5 256.3V262.9M738.5 259.8V266.5M740.5 263.0V267.2M745.5 265.0V285.0M762.5 257.3V263.0M764.5 254.0V270.6M767.5 267.1V271.7M769.5 270.6V276.0M775.5 261.7V274.1M777.5 270.6V276.5M780.5 273.3V284.6M782.5 280.4V286.0M784.5 281.3V291.5M786.5 283.6V293.4M788.5 288.2V293.6M790.5 292.7V300.1M793.5 295.2V300.7M795.5 297.5V304.0M801.5 291.5V302.2M804.5 299.8V309.2M806.5 307.1V316.9M812.5 307.1V311.1M817.5 300.7V306.9M819.5 304.5V312.5M821.5 308.7V318.7M830.5 305.9V323.2M836.5 309.1V311.0M849.5 284.5V306.9M851.5 304.3V308.7M854.5 306.9V309.7M860.5 303.9V312.1M864.5 309.0V319.0M867.5 311.9V322.8M869.5 321.7V326.4M873.5 308.1V320.0M875.5 320.2V324.2M877.5 319.6V326.9M880.5 322.3V330.6M884.5 329.1V333.1M886.5 327.5V342.2M895.5 325.9V338.3M897.5 334.5V342.4M904.5 332.5V334.2M906.5 330.2V337.2M908.5 337.1V340.8M914.5 324.3V329.8M917.5 328.5V335.2M919.5 333.2V335.6M921.5 332.1V341.2M925.5 332.2V341.7" stroke="#f4514c" stroke-width="1" fill="none"/>
<path d="M3.5 551.1V565.0M5.5 520.8V554.4M8.5 495.7V528.6M10.5 491.8V502.9M19.5 500.1V522.0M21.5 489.6V505.5M23.5 472.9V494.1M25.5 427.4V478.3M27.5 379.4V432.9M29.5 283.3V384.1M32.5 152.0V262.0M40.5 232.9V287.0M42.5 213.0V274.0M49.5 225.3V242.2M51.5 194.1V233.3M53.5 158.9V195.9M55.5 152.5V190.0M69.5 257.4V305.0M71.5 255.6V258.9M73.5 252.3V260.1M75.5 249.8V259.5M77.5 245.5V251.2M82.5 235.1V250.5M86.5 242.0V258.7M90.5 234.3V256.6M99.5 304.2V336.8M101.5 298.8V304.7M108.5 305.4V331.4M116.5 316.9V342.7M119.5 274.0V352.0M121.5 230.2V280.2M123.5 211.4V236.8M125.5 195.6V217.8M127.5 187.3V199.5M134.5 214.5V220.0M136.5 214.1V221.5M151.5 245.5V260.9M153.5 224.1V250.8M169.5 244.3V253.3M171.5 237.0V250.2M179.5 249.2V258.8M195.5 327.7V337.6M197.5 309.2V329.1M199.5 301.6V318.6M201.5 290.8V307.1M208.5 303.3V315.4M210.5 284.1V304.7M212.5 271.8V301.4M214.5 250.6V279.7M216.5 229.2V256.0M229.5 244.6V270.2M232.5 219.4V257.4M234.5 209.5V225.9M240.5 219.5V242.9M242.5 208.6V226.1M245.5 193.0V210.4M256.5 293.0V355.0M258.5 290.6V299.2M260.5 289.4V299.9M262.5 281.4V292.5M264.5 254.2V290.6M266.5 241.7V262.5M275.5 265.8V278.6M277.5 257.3V270.2M279.5 251.0V264.0M299.5 289.9V310.9M301.5 274.2V292.8M306.5 274.8V285.9M310.5 273.1V284.5M312.5 272.0V276.2M316.5 260.7V279.1M319.5 240.7V264.5M321.5 231.5V247.6M327.5 243.7V259.3M338.5 297.4V306.2M340.5 286.3V306.0M343.5 279.0V292.6M345.5 244.7V287.1M347.5 222.9V251.2M366.5 250.1V264.6M369.5 247.9V268.6M371.5 237.3V249.1M373.5 237.3V243.2M384.5 253.9V268.2M386.5 253.2V257.5M388.5 248.8V256.4M390.5 241.9V251.2M395.5 244.7V250.1M408.5 257.2V268.7M410.5 258.4V261.7M416.5 256.9V261.2M434.5 310.0V330.9M436.5 310.6V315.4M445.5 330.2V336.9M453.5 348.3V358.8M456.5 344.4V350.9M458.5 333.3V348.8M460.5 333.4V343.7M471.5 343.8V350.1M480.5 318.0V388.0M488.5 339.9V347.5M495.5 357.8V365.5M497.5 354.2V366.5M499.5 352.1V365.4M501.5 349.2V362.9M503.5 346.7V359.7M506.5 344.8V354.5M525.5 372.7V388.2M527.5 366.0V380.8M532.5 368.2V376.1M549.5 448.7V465.0M556.5 441.5V453.9M558.5 428.7V449.9M560.5 395.0V439.0M573.5 385.0V449.0M575.5 330.0V384.0M580.5 326.5V340.7M586.5 334.4V338.1M588.5 322.9V336.9M590.5 322.7V328.3M599.5 366.9V371.9M601.5 364.4V374.4M610.5 345.0V389.0M619.5 348.3V356.2M621.5 345.1V355.0M623.5 342.2V347.7M627.5 342.1V344.3M632.5 342.9V345.5M634.5 338.4V347.8M636.5 342.1V345.9M640.5 341.5V344.0M643.5 337.2V342.5M645.5 334.5V338.7M651.5 339.8V344.6M669.5 370.2V376.8M671.5 361.3V373.6M673.5 342.0V367.0M677.5 337.5V347.6M680.5 336.4V343.5M684.5 339.4V348.7M686.5 336.0V340.2M688.5 334.8V340.2M690.5 332.3V336.3M701.5 339.6V342.8M708.5 330.8V349.5M712.5 300.0V331.0M714.5 279.0V304.0M721.5 279.1V285.4M725.5 274.9V282.3M727.5 253.0V276.0M732.5 254.8V260.5M743.5 260.6V268.8M747.5 278.9V286.1M749.5 268.2V284.2M751.5 265.7V270.6M754.5 263.8V270.5M756.5 260.6V264.9M758.5 258.4V265.0M760.5 257.7V263.1M771.5 267.8V280.4M773.5 263.8V271.9M797.5 296.9V306.0M799.5 289.3V300.7M808.5 310.5V320.3M810.5 306.5V314.7M814.5 301.5V313.2M823.5 307.6V321.9M825.5 299.8V311.0M827.5 309.0V338.0M832.5 312.9V325.4M834.5 307.7V316.9M838.5 304.4V312.3M840.5 301.4V309.1M843.5 291.9V303.2M845.5 291.7V298.1M847.5 279.0V294.0M856.5 304.4V310.0M858.5 301.1V306.2M862.5 311.1V313.6M871.5 310.0V328.0M882.5 327.7V330.9M888.5 335.0V341.8M890.5 323.7V336.4M893.5 326.3V331.1M899.5 333.0V349.0M901.5 332.1V335.0M910.5 334.6V342.5M912.5 321.5V339.0M923.5 332.5V340.2" stroke="#1d8c5e" stroke-width="1" fill="none"/>
<path d="M11.55 495.4h1.9v2.7h-1.9zM13.55 497.2h1.9v8.3h-1.9zM15.55 505.7h1.9v15.3h-1.9zM33.55 181.0h1.9v104.0h-1.9zM35.55 213.0h1.9v56.0h-1.9zM37.55 244.0h1.9v41.0h-1.9zM44.55 212.9h1.9v20.8h-1.9zM46.55 235.4h1.9v2.1h-1.9zM57.55 158.4h1.9v22.8h-1.9zM59.55 179.4h1.9v19.9h-1.9zM61.55 200.5h1.9v16.5h-1.9zM63.55 217.5h1.9v29.3h-1.9zM65.55 250.0h1.9v40.0h-1.9zM78.55 249.7h1.9v1.2h-1.9zM83.55 245.0h1.9v8.9h-1.9zM87.55 248.8h1.9v1.0h-1.9zM91.55 244.5h1.9v18.3h-1.9zM94.55 263.1h1.9v42.9h-1.9zM96.55 320.0h1.9v10.0h-1.9zM102.55 297.8h1.9v12.6h-1.9zM105.55 309.6h1.9v18.5h-1.9zM109.55 311.5h1.9v9.0h-1.9zM111.55 322.1h1.9v8.0h-1.9zM113.55 328.7h1.9v9.0h-1.9zM128.55 189.9h1.9v15.7h-1.9zM131.55 206.0h1.9v14.4h-1.9zM137.55 215.8h1.9v12.8h-1.9zM139.55 229.9h1.9v14.5h-1.9zM141.55 244.2h1.9v1.0h-1.9zM144.55 246.3h1.9v5.1h-1.9zM146.55 250.4h1.9v1.0h-1.9zM148.55 250.1h1.9v1.0h-1.9zM155.55 228.2h1.9v1.0h-1.9zM157.55 227.8h1.9v5.1h-1.9zM159.55 233.6h1.9v8.2h-1.9zM161.55 243.2h1.9v2.8h-1.9zM163.55 246.8h1.9v1.4h-1.9zM165.55 247.5h1.9v3.6h-1.9zM172.55 243.5h1.9v1.0h-1.9zM174.55 244.9h1.9v3.6h-1.9zM176.55 249.9h1.9v4.7h-1.9zM181.55 253.9h1.9v6.6h-1.9zM183.55 259.5h1.9v14.2h-1.9zM185.55 274.1h1.9v19.4h-1.9zM187.55 292.7h1.9v17.7h-1.9zM189.55 310.1h1.9v11.5h-1.9zM191.55 322.0h1.9v7.7h-1.9zM202.55 298.8h1.9v8.7h-1.9zM205.55 308.9h1.9v4.2h-1.9zM218.55 234.8h1.9v4.3h-1.9zM220.55 238.8h1.9v11.5h-1.9zM222.55 251.5h1.9v1.0h-1.9zM224.55 251.4h1.9v9.2h-1.9zM226.55 259.9h1.9v4.8h-1.9zM235.55 213.1h1.9v11.6h-1.9zM237.55 224.9h1.9v4.2h-1.9zM246.55 195.9h1.9v8.8h-1.9zM248.55 205.7h1.9v16.7h-1.9zM250.55 223.7h1.9v18.8h-1.9zM252.55 240.0h1.9v99.0h-1.9zM268.55 243.1h1.9v8.9h-1.9zM270.55 252.5h1.9v16.8h-1.9zM272.55 268.3h1.9v7.3h-1.9zM281.55 258.1h1.9v2.9h-1.9zM283.55 261.4h1.9v8.3h-1.9zM285.55 268.9h1.9v11.5h-1.9zM287.55 279.2h1.9v7.9h-1.9zM289.55 286.1h1.9v5.1h-1.9zM292.55 291.4h1.9v8.6h-1.9zM294.55 299.5h1.9v5.9h-1.9zM296.55 306.2h1.9v1.8h-1.9zM302.55 280.0h1.9v5.2h-1.9zM307.55 279.6h1.9v1.3h-1.9zM313.55 274.4h1.9v1.6h-1.9zM322.55 234.1h1.9v12.8h-1.9zM324.55 246.4h1.9v6.0h-1.9zM328.55 248.5h1.9v10.3h-1.9zM331.55 257.7h1.9v24.2h-1.9zM333.55 281.2h1.9v10.8h-1.9zM335.55 291.8h1.9v8.3h-1.9zM348.55 221.0h1.9v13.0h-1.9zM350.55 235.2h1.9v4.4h-1.9zM352.55 240.3h1.9v1.4h-1.9zM355.55 242.8h1.9v3.8h-1.9zM357.55 245.9h1.9v2.6h-1.9zM359.55 247.9h1.9v4.3h-1.9zM361.55 253.0h1.9v5.4h-1.9zM363.55 258.0h1.9v5.5h-1.9zM374.55 239.5h1.9v3.9h-1.9zM376.55 243.4h1.9v7.4h-1.9zM378.55 251.7h1.9v8.9h-1.9zM381.55 259.6h1.9v1.2h-1.9zM392.55 246.9h1.9v2.5h-1.9zM396.55 248.7h1.9v1.5h-1.9zM398.55 249.4h1.9v10.9h-1.9zM400.55 259.8h1.9v2.1h-1.9zM402.55 261.1h1.9v1.0h-1.9zM405.55 262.3h1.9v2.0h-1.9zM411.55 258.8h1.9v1.3h-1.9zM413.55 260.2h1.9v1.1h-1.9zM418.55 258.7h1.9v1.0h-1.9zM420.55 258.6h1.9v1.0h-1.9zM422.55 258.8h1.9v6.0h-1.9zM424.55 265.5h1.9v3.3h-1.9zM426.55 267.9h1.9v11.4h-1.9zM429.55 278.0h1.9v44.0h-1.9zM431.55 321.2h1.9v7.6h-1.9zM437.55 313.6h1.9v4.0h-1.9zM439.55 318.7h1.9v10.5h-1.9zM442.55 330.0h1.9v1.5h-1.9zM446.55 331.3h1.9v4.3h-1.9zM448.55 336.0h1.9v10.6h-1.9zM450.55 345.4h1.9v9.1h-1.9zM461.55 334.6h1.9v7.7h-1.9zM463.55 343.4h1.9v1.0h-1.9zM465.55 343.3h1.9v5.2h-1.9zM468.55 348.8h1.9v1.0h-1.9zM472.55 348.6h1.9v8.1h-1.9zM474.55 350.0h1.9v21.0h-1.9zM476.55 369.9h1.9v1.0h-1.9zM481.55 327.8h1.9v8.0h-1.9zM483.55 334.8h1.9v5.6h-1.9zM485.55 339.1h1.9v3.9h-1.9zM489.55 340.3h1.9v15.5h-1.9zM492.55 356.8h1.9v6.1h-1.9zM507.55 346.2h1.9v7.4h-1.9zM509.55 354.5h1.9v8.2h-1.9zM511.55 363.1h1.9v6.1h-1.9zM513.55 369.0h1.9v4.0h-1.9zM515.55 372.5h1.9v1.0h-1.9zM518.55 374.1h1.9v3.0h-1.9zM520.55 378.1h1.9v3.7h-1.9zM522.55 381.5h1.9v2.2h-1.9zM529.55 368.3h1.9v1.5h-1.9zM533.55 369.1h1.9v5.5h-1.9zM535.55 374.8h1.9v6.1h-1.9zM537.55 380.1h1.9v10.7h-1.9zM539.55 390.2h1.9v14.9h-1.9zM542.55 405.2h1.9v15.3h-1.9zM544.55 419.4h1.9v21.2h-1.9zM546.55 445.0h1.9v19.0h-1.9zM550.55 450.1h1.9v1.5h-1.9zM552.55 451.2h1.9v1.9h-1.9zM561.55 396.8h1.9v11.7h-1.9zM563.55 409.0h1.9v10.8h-1.9zM565.55 419.7h1.9v5.8h-1.9zM568.55 425.8h1.9v16.9h-1.9zM570.55 442.3h1.9v5.0h-1.9zM576.55 332.8h1.9v8.0h-1.9zM581.55 328.4h1.9v3.0h-1.9zM583.55 332.2h1.9v5.5h-1.9zM592.55 326.8h1.9v10.8h-1.9zM594.55 338.5h1.9v23.3h-1.9zM596.55 361.6h1.9v8.0h-1.9zM602.55 364.1h1.9v3.2h-1.9zM605.55 368.2h1.9v4.0h-1.9zM607.55 371.1h1.9v2.3h-1.9zM611.55 347.5h1.9v5.3h-1.9zM613.55 353.2h1.9v2.9h-1.9zM616.55 355.2h1.9v1.4h-1.9zM624.55 343.5h1.9v1.0h-1.9zM629.55 342.6h1.9v1.6h-1.9zM637.55 342.4h1.9v1.0h-1.9zM646.55 334.1h1.9v4.0h-1.9zM648.55 338.2h1.9v2.7h-1.9zM652.55 341.7h1.9v1.5h-1.9zM655.55 343.4h1.9v3.4h-1.9zM657.55 346.4h1.9v8.3h-1.9zM659.55 354.2h1.9v3.0h-1.9zM661.55 356.7h1.9v7.0h-1.9zM663.55 364.2h1.9v2.0h-1.9zM666.55 366.6h1.9v7.4h-1.9zM674.55 343.5h1.9v2.3h-1.9zM681.55 339.7h1.9v2.6h-1.9zM692.55 334.8h1.9v1.0h-1.9zM694.55 334.6h1.9v5.1h-1.9zM696.55 339.8h1.9v1.0h-1.9zM698.55 340.7h1.9v1.0h-1.9zM702.55 340.6h1.9v2.4h-1.9zM705.55 343.4h1.9v1.1h-1.9zM709.55 331.5h1.9v2.2h-1.9zM716.55 280.4h1.9v1.8h-1.9zM718.55 281.6h1.9v1.0h-1.9zM722.55 280.5h1.9v1.0h-1.9zM729.55 254.6h1.9v4.5h-1.9zM733.55 255.9h1.9v3.4h-1.9zM735.55 259.8h1.9v2.1h-1.9zM737.55 261.3h1.9v3.1h-1.9zM739.55 264.3h1.9v1.0h-1.9zM744.55 267.0h1.9v16.0h-1.9zM761.55 260.4h1.9v1.6h-1.9zM763.55 261.4h1.9v7.8h-1.9zM766.55 269.5h1.9v2.0h-1.9zM768.55 272.3h1.9v3.7h-1.9zM774.55 266.3h1.9v6.7h-1.9zM776.55 273.3h1.9v1.9h-1.9zM779.55 274.7h1.9v5.4h-1.9zM781.55 280.8h1.9v3.9h-1.9zM783.55 284.0h1.9v3.7h-1.9zM785.55 287.1h1.9v3.4h-1.9zM787.55 289.8h1.9v3.6h-1.9zM789.55 293.8h1.9v3.0h-1.9zM792.55 296.5h1.9v1.1h-1.9zM794.55 298.0h1.9v4.8h-1.9zM800.55 292.6h1.9v8.9h-1.9zM803.55 302.0h1.9v5.8h-1.9zM805.55 307.6h1.9v7.7h-1.9zM811.55 308.7h1.9v1.5h-1.9zM816.55 302.1h1.9v3.7h-1.9zM818.55 306.3h1.9v3.6h-1.9zM820.55 310.6h1.9v6.9h-1.9zM829.55 312.2h1.9v9.8h-1.9zM835.55 310.0h1.9v1.0h-1.9zM848.55 285.7h1.9v21.2h-1.9zM850.55 306.2h1.9v2.3h-1.9zM853.55 308.4h1.9v1.0h-1.9zM859.55 304.2h1.9v7.7h-1.9zM863.55 310.8h1.9v2.5h-1.9zM866.55 312.7h1.9v9.6h-1.9zM868.55 322.9h1.9v1.1h-1.9zM872.55 313.1h1.9v6.9h-1.9zM874.55 320.3h1.9v1.7h-1.9zM876.55 321.8h1.9v4.0h-1.9zM879.55 325.2h1.9v4.9h-1.9zM883.55 329.5h1.9v3.7h-1.9zM885.55 332.4h1.9v6.6h-1.9zM894.55 326.6h1.9v8.3h-1.9zM896.55 335.4h1.9v5.3h-1.9zM903.55 332.8h1.9v1.0h-1.9zM905.55 333.9h1.9v3.2h-1.9zM907.55 337.8h1.9v2.5h-1.9zM913.55 325.4h1.9v3.9h-1.9zM916.55 329.4h1.9v5.1h-1.9zM918.55 334.5h1.9v1.0h-1.9zM920.55 335.4h1.9v2.6h-1.9zM924.55 335.2h1.9v4.0h-1.9z" fill="#f4514c"/>
<path d="M2.55 554.8h1.9v8.4h-1.9zM4.55 525.8h1.9v28.3h-1.9zM7.55 500.9h1.9v24.4h-1.9zM9.55 496.4h1.9v5.5h-1.9zM18.55 505.1h1.9v16.8h-1.9zM20.55 489.8h1.9v14.8h-1.9zM22.55 477.3h1.9v13.1h-1.9zM24.55 429.9h1.9v46.9h-1.9zM26.55 383.1h1.9v45.9h-1.9zM28.55 289.2h1.9v93.5h-1.9zM31.55 180.0h1.9v79.0h-1.9zM39.55 237.9h1.9v47.5h-1.9zM41.55 215.0h1.9v57.0h-1.9zM48.55 227.6h1.9v11.8h-1.9zM50.55 195.1h1.9v31.2h-1.9zM52.55 164.0h1.9v29.0h-1.9zM54.55 156.0h1.9v31.0h-1.9zM68.55 258.0h1.9v33.0h-1.9zM70.55 256.1h1.9v1.0h-1.9zM72.55 255.6h1.9v1.7h-1.9zM74.55 250.4h1.9v3.4h-1.9zM76.55 248.0h1.9v2.0h-1.9zM81.55 246.7h1.9v2.5h-1.9zM85.55 248.0h1.9v7.6h-1.9zM89.55 243.2h1.9v7.1h-1.9zM98.55 304.9h1.9v24.7h-1.9zM100.55 298.8h1.9v4.5h-1.9zM107.55 312.1h1.9v14.8h-1.9zM115.55 317.4h1.9v22.0h-1.9zM118.55 276.0h1.9v74.0h-1.9zM120.55 234.6h1.9v41.1h-1.9zM122.55 213.3h1.9v22.9h-1.9zM124.55 197.1h1.9v14.7h-1.9zM126.55 190.8h1.9v4.9h-1.9zM133.55 217.4h1.9v2.1h-1.9zM135.55 215.8h1.9v2.3h-1.9zM150.55 249.9h1.9v1.6h-1.9zM152.55 229.7h1.9v18.9h-1.9zM168.55 250.0h1.9v2.2h-1.9zM170.55 243.4h1.9v6.7h-1.9zM178.55 253.5h1.9v2.1h-1.9zM194.55 328.2h1.9v1.0h-1.9zM196.55 312.1h1.9v15.5h-1.9zM198.55 302.1h1.9v8.9h-1.9zM200.55 298.2h1.9v5.0h-1.9zM207.55 304.0h1.9v9.7h-1.9zM209.55 290.2h1.9v14.0h-1.9zM211.55 279.5h1.9v9.8h-1.9zM213.55 255.6h1.9v22.5h-1.9zM215.55 234.2h1.9v21.3h-1.9zM228.55 252.3h1.9v12.0h-1.9zM231.55 225.7h1.9v27.5h-1.9zM233.55 213.9h1.9v11.7h-1.9zM239.55 220.5h1.9v9.2h-1.9zM241.55 208.8h1.9v12.5h-1.9zM244.55 195.9h1.9v12.5h-1.9zM255.55 295.0h1.9v43.0h-1.9zM257.55 295.7h1.9v1.0h-1.9zM259.55 292.8h1.9v2.2h-1.9zM261.55 284.6h1.9v7.6h-1.9zM263.55 260.7h1.9v24.6h-1.9zM265.55 243.2h1.9v18.8h-1.9zM274.55 268.8h1.9v6.8h-1.9zM276.55 260.8h1.9v7.4h-1.9zM278.55 257.1h1.9v5.0h-1.9zM298.55 291.3h1.9v16.1h-1.9zM300.55 280.4h1.9v10.5h-1.9zM305.55 280.7h1.9v4.6h-1.9zM309.55 274.2h1.9v7.4h-1.9zM311.55 273.3h1.9v1.5h-1.9zM315.55 262.3h1.9v13.2h-1.9zM318.55 243.1h1.9v18.5h-1.9zM320.55 233.3h1.9v9.6h-1.9zM326.55 247.7h1.9v5.8h-1.9zM337.55 298.5h1.9v1.7h-1.9zM339.55 290.1h1.9v9.3h-1.9zM342.55 284.4h1.9v6.7h-1.9zM344.55 248.2h1.9v36.9h-1.9zM346.55 224.6h1.9v24.9h-1.9zM365.55 256.8h1.9v5.6h-1.9zM368.55 249.8h1.9v7.1h-1.9zM370.55 241.0h1.9v7.5h-1.9zM372.55 238.5h1.9v2.8h-1.9zM383.55 256.2h1.9v5.5h-1.9zM385.55 254.4h1.9v1.0h-1.9zM387.55 250.5h1.9v3.0h-1.9zM389.55 247.9h1.9v2.0h-1.9zM394.55 248.5h1.9v1.4h-1.9zM407.55 259.9h1.9v3.3h-1.9zM409.55 259.8h1.9v1.0h-1.9zM415.55 257.5h1.9v3.4h-1.9zM433.55 315.3h1.9v12.8h-1.9zM435.55 312.6h1.9v2.3h-1.9zM444.55 332.1h1.9v1.0h-1.9zM452.55 350.5h1.9v4.2h-1.9zM455.55 345.1h1.9v5.0h-1.9zM457.55 336.8h1.9v9.4h-1.9zM459.55 333.8h1.9v3.5h-1.9zM470.55 348.1h1.9v1.0h-1.9zM479.55 327.0h1.9v46.0h-1.9zM487.55 341.4h1.9v2.6h-1.9zM494.55 359.7h1.9v4.3h-1.9zM496.55 357.9h1.9v1.8h-1.9zM498.55 354.9h1.9v3.3h-1.9zM500.55 352.3h1.9v3.2h-1.9zM502.55 349.6h1.9v1.7h-1.9zM505.55 346.8h1.9v2.1h-1.9zM524.55 376.1h1.9v7.9h-1.9zM526.55 369.1h1.9v7.0h-1.9zM531.55 369.1h1.9v1.0h-1.9zM548.55 449.6h1.9v13.4h-1.9zM555.55 443.5h1.9v10.3h-1.9zM557.55 429.1h1.9v13.2h-1.9zM559.55 397.0h1.9v40.0h-1.9zM572.55 387.0h1.9v60.0h-1.9zM574.55 332.0h1.9v50.0h-1.9zM579.55 328.5h1.9v11.5h-1.9zM585.55 334.6h1.9v2.9h-1.9zM587.55 327.8h1.9v6.5h-1.9zM589.55 325.8h1.9v1.2h-1.9zM598.55 368.3h1.9v1.0h-1.9zM600.55 364.8h1.9v4.0h-1.9zM609.55 348.0h1.9v24.0h-1.9zM618.55 351.1h1.9v5.1h-1.9zM620.55 347.3h1.9v3.7h-1.9zM622.55 343.4h1.9v3.6h-1.9zM626.55 342.7h1.9v1.2h-1.9zM631.55 344.4h1.9v1.0h-1.9zM633.55 342.3h1.9v2.0h-1.9zM635.55 342.5h1.9v1.0h-1.9zM639.55 342.6h1.9v1.1h-1.9zM642.55 338.4h1.9v4.0h-1.9zM644.55 334.5h1.9v4.1h-1.9zM650.55 341.1h1.9v1.0h-1.9zM668.55 372.0h1.9v1.8h-1.9zM670.55 364.2h1.9v7.8h-1.9zM672.55 344.0h1.9v21.0h-1.9zM676.55 341.7h1.9v3.3h-1.9zM679.55 339.0h1.9v3.0h-1.9zM683.55 340.2h1.9v1.8h-1.9zM685.55 338.3h1.9v1.2h-1.9zM687.55 335.7h1.9v3.0h-1.9zM689.55 334.4h1.9v1.7h-1.9zM700.55 339.9h1.9v2.1h-1.9zM707.55 331.6h1.9v13.0h-1.9zM711.55 302.0h1.9v27.0h-1.9zM713.55 281.0h1.9v21.0h-1.9zM720.55 280.0h1.9v2.1h-1.9zM724.55 275.3h1.9v5.3h-1.9zM726.55 255.0h1.9v19.0h-1.9zM731.55 256.2h1.9v2.6h-1.9zM742.55 262.4h1.9v2.8h-1.9zM746.55 279.4h1.9v4.4h-1.9zM748.55 270.8h1.9v8.3h-1.9zM750.55 267.1h1.9v3.4h-1.9zM753.55 264.6h1.9v2.7h-1.9zM755.55 263.6h1.9v1.2h-1.9zM757.55 261.7h1.9v2.2h-1.9zM759.55 260.2h1.9v1.1h-1.9zM770.55 269.8h1.9v6.8h-1.9zM772.55 266.4h1.9v2.7h-1.9zM796.55 301.1h1.9v1.2h-1.9zM798.55 292.9h1.9v7.7h-1.9zM807.55 311.5h1.9v4.3h-1.9zM809.55 309.4h1.9v2.8h-1.9zM813.55 302.7h1.9v7.2h-1.9zM822.55 310.4h1.9v7.4h-1.9zM824.55 302.0h1.9v8.6h-1.9zM826.55 312.0h1.9v16.0h-1.9zM831.55 315.0h1.9v7.5h-1.9zM833.55 310.5h1.9v4.4h-1.9zM837.55 306.0h1.9v3.4h-1.9zM839.55 302.8h1.9v2.9h-1.9zM842.55 296.5h1.9v6.2h-1.9zM844.55 293.4h1.9v2.4h-1.9zM846.55 286.0h1.9v6.0h-1.9zM855.55 305.1h1.9v4.0h-1.9zM857.55 303.5h1.9v2.3h-1.9zM861.55 311.4h1.9v1.0h-1.9zM870.55 313.0h1.9v13.0h-1.9zM881.55 329.1h1.9v1.0h-1.9zM887.55 336.0h1.9v2.8h-1.9zM889.55 327.5h1.9v8.5h-1.9zM892.55 326.8h1.9v1.0h-1.9zM898.55 335.0h1.9v6.0h-1.9zM900.55 332.1h1.9v2.2h-1.9zM909.55 336.4h1.9v4.3h-1.9zM911.55 325.0h1.9v12.0h-1.9zM922.55 334.9h1.9v3.0h-1.9z" fill="#1d8c5e"/>
</g>
<path d="M3 545.5H985.5" stroke="#111" stroke-width="1" stroke-dasharray="2 1" fill="none"/>
<path d="M35.5 512.3V560.2" stroke="#74b665" stroke-width="1"/>
<rect x="33.9" y="518.9" width="3.8" height="35" fill="#4fa343" fill-opacity="0.93"/>
<path d="M40.5 512.3V560.2" stroke="#74b665" stroke-width="1"/>
<rect x="38.9" y="518.9" width="3.8" height="35" fill="#4fa343" fill-opacity="0.93"/>
<path d="M45.5 512.3V560.2" stroke="#74b665" stroke-width="1"/>
<rect x="43.9" y="518.9" width="3.8" height="17.8" fill="#4fa343" fill-opacity="0.93"/>
<path d="M50.5 512.3V560.2" stroke="#74b665" stroke-width="1"/>
<rect x="48.9" y="518.9" width="3.8" height="17.8" fill="#4fa343" fill-opacity="0.93"/>
<path d="M55.5 512.3V560.2" stroke="#ee6676" stroke-width="1"/>
<rect x="53.9" y="518.9" width="3.8" height="35" fill="#e2354d" fill-opacity="0.95"/>
<path d="M60.5 512.3V560.2" stroke="#ee6676" stroke-width="1"/>
<rect x="58.9" y="518.9" width="3.8" height="35" fill="#e2354d" fill-opacity="0.95"/>
<path d="M65.5 512.3V560.2" stroke="#ee6676" stroke-width="1"/>
<rect x="63.9" y="518.9" width="3.8" height="9.8" fill="#e2354d" fill-opacity="0.95"/>
<rect x="63.9" y="544.1" width="3.8" height="9.8" fill="#e2354d" fill-opacity="0.95"/>
<path d="M70.5 512.3V560.2" stroke="#ee6676" stroke-width="1"/>
<rect x="68.9" y="518.9" width="3.8" height="9.8" fill="#e2354d" fill-opacity="0.95"/>
<rect x="68.9" y="544.1" width="3.8" height="9.8" fill="#e2354d" fill-opacity="0.95"/>
<text x="16.3" y="582.9" font-size="23.2" fill="#444" font-weight="bold" textLength="28.2" lengthAdjust="spacingAndGlyphs">PC</text>
<text x="44.3" y="582.9" font-size="23" fill="#777" fill-opacity="0.72" textLength="45.5" lengthAdjust="spacingAndGlyphs">Bolsa</text>
<text x="20" y="147.8" font-size="10.7" fill="#9ed2f7" font-weight="bold" textLength="50.5" lengthAdjust="spacingAndGlyphs">SMA (100)</text>
<text x="74" y="147.8" font-size="10.7" fill="#d9d9d9" font-weight="bold" textLength="50.5" lengthAdjust="spacingAndGlyphs">BOLL (20)</text>
<rect x="3" y="286.5" width="39" height="42" fill="#fff"/>
<clipPath id="lblclip"><rect x="3" y="286" width="39" height="42.5"/></clipPath><g clip-path="url(#lblclip)">
<text x="5.5" y="297.4" font-size="10.5" fill="#111" textLength="32" lengthAdjust="spacingAndGlyphs" stroke="#111" stroke-width="0.15">1,5840</text>
<text x="5.5" y="309.3" font-size="10.5" fill="#111" textLength="32" lengthAdjust="spacingAndGlyphs" stroke="#111" stroke-width="0.15">1,4860</text>
<text x="5.5" y="319.3" font-size="10.5" fill="#111" textLength="32" lengthAdjust="spacingAndGlyphs" stroke="#111" stroke-width="0.15">1,4160</text>
<text x="5.5" y="328.4" font-size="10.5" fill="#111" textLength="32" lengthAdjust="spacingAndGlyphs" stroke="#111" stroke-width="0.15">1,3560</text>
<path d="M3 300.5H42" stroke="#f4544f" stroke-width="1.15" stroke-dasharray="4 5.02" stroke-dashoffset="1.5" fill="none"/>
<path d="M3 312.5H42" stroke="#f4544f" stroke-width="1.15" stroke-dasharray="4 5.02" stroke-dashoffset="1.5" fill="none"/>
<path d="M3 322.5H42" stroke="#f4544f" stroke-width="1.15" stroke-dasharray="4 5.02" stroke-dashoffset="1.5" fill="none"/>
<path d="M3 331.5H42" stroke="#f4544f" stroke-width="1.15" stroke-dasharray="4 5.02" stroke-dashoffset="1.5" fill="none"/>
</g>
<rect x="43" y="325.2" width="39.3" height="3.5" fill="#f4514c"/>
<rect x="3" y="328.5" width="79.3" height="14.5" fill="#2a9b6c"/>
<rect x="51.5" y="328.5" width="30.8" height="12.8" fill="#ccc" fill-opacity="0.22"/>
<text x="5.5" y="339.7" font-size="10.2" fill="#fff" font-weight="bold" textLength="32" lengthAdjust="spacingAndGlyphs">1,2860</text>
<text x="43.4" y="339.7" font-size="10.2" fill="#fff" font-weight="bold" textLength="33.3" lengthAdjust="spacingAndGlyphs">-0,92%</text>
<path d="M82.3 328.5H51.5V341.5H82.3" fill="none" stroke="#222" stroke-width="1"/>
<path d="M985.5 133.2V584.5" stroke="#222" stroke-width="1.1"/>
<path d="M3 584.3H985.5" stroke="#333" stroke-width="1.3"/>
<text x="987.3" y="150.79999999999998" font-size="10.8" fill="#000" textLength="33" lengthAdjust="spacingAndGlyphs" stroke="#000" stroke-width="0.3">3,2910</text>
<text x="987.3" y="160.79999999999998" font-size="10.8" fill="#2a9b6c" textLength="41.6" lengthAdjust="spacingAndGlyphs" stroke="#2a9b6c" stroke-width="0.4">154,32%</text>
<text x="987.3" y="209.79999999999998" font-size="10.8" fill="#000" textLength="33" lengthAdjust="spacingAndGlyphs" stroke="#000" stroke-width="0.3">2,4574</text>
<text x="987.3" y="219.79999999999998" font-size="10.8" fill="#2a9b6c" textLength="35.7" lengthAdjust="spacingAndGlyphs" stroke="#2a9b6c" stroke-width="0.4">89,91%</text>
<text x="987.3" y="268.90000000000003" font-size="10.8" fill="#000" textLength="33" lengthAdjust="spacingAndGlyphs" stroke="#000" stroke-width="0.3">1,8350</text>
<text x="987.3" y="278.90000000000003" font-size="10.8" fill="#2a9b6c" textLength="35.7" lengthAdjust="spacingAndGlyphs" stroke="#2a9b6c" stroke-width="0.4">41,81%</text>
<text x="987.3" y="327.90000000000003" font-size="10.8" fill="#000" textLength="33" lengthAdjust="spacingAndGlyphs" stroke="#000" stroke-width="0.3">1,3702</text>
<text x="987.3" y="337.90000000000003" font-size="10.8" fill="#2a9b6c" textLength="29.6" lengthAdjust="spacingAndGlyphs" stroke="#2a9b6c" stroke-width="0.4">5,89%</text>
<text x="987.3" y="386.90000000000003" font-size="10.8" fill="#000" textLength="33" lengthAdjust="spacingAndGlyphs" stroke="#000" stroke-width="0.3">1,0232</text>
<text x="987.3" y="396.90000000000003" font-size="10.8" fill="#f0504d" textLength="39.3" lengthAdjust="spacingAndGlyphs" stroke="#f0504d" stroke-width="0.4">-20,92%</text>
<text x="987.3" y="445.90000000000003" font-size="10.8" fill="#000" textLength="33" lengthAdjust="spacingAndGlyphs" stroke="#000" stroke-width="0.3">0,7640</text>
<text x="987.3" y="455.90000000000003" font-size="10.8" fill="#f0504d" textLength="39.3" lengthAdjust="spacingAndGlyphs" stroke="#f0504d" stroke-width="0.4">-40,95%</text>
<text x="987.3" y="504.8" font-size="10.8" fill="#000" textLength="33" lengthAdjust="spacingAndGlyphs" stroke="#000" stroke-width="0.3">0,5705</text>
<text x="987.3" y="514.8" font-size="10.8" fill="#f0504d" textLength="39.3" lengthAdjust="spacingAndGlyphs" stroke="#f0504d" stroke-width="0.4">-55,90%</text>
<text x="987.3" y="563.8000000000001" font-size="10.8" fill="#000" textLength="33" lengthAdjust="spacingAndGlyphs" stroke="#000" stroke-width="0.3">0,4249</text>
<text x="987.3" y="573.8000000000001" font-size="10.8" fill="#f0504d" textLength="39.3" lengthAdjust="spacingAndGlyphs" stroke="#f0504d" stroke-width="0.4">-67,15%</text>
<rect x="984.5" y="334" width="46.5" height="13.4" fill="#2a9b6c"/>
<text x="987.5" y="344.6" font-size="11" fill="#fff" font-weight="bold" textLength="33" lengthAdjust="spacingAndGlyphs">1,2980</text>
<clipPath id="xl"><rect x="3" y="585" width="1031" height="17"/></clipPath><g clip-path="url(#xl)">
<text x="6.2" y="598" font-size="11" fill="#111" font-weight="bold" text-anchor="middle" textLength="25.8" lengthAdjust="spacingAndGlyphs">2018</text>
<text x="53.4" y="598" font-size="10.8" fill="#111" text-anchor="middle" textLength="16.8" lengthAdjust="spacingAndGlyphs" stroke="#111" stroke-width="0.2">Jun</text>
<text x="119.3" y="598" font-size="11" fill="#111" font-weight="bold" text-anchor="middle" textLength="25.8" lengthAdjust="spacingAndGlyphs">2019</text>
<text x="166.2" y="598" font-size="10.8" fill="#111" text-anchor="middle" textLength="16.8" lengthAdjust="spacingAndGlyphs" stroke="#111" stroke-width="0.2">Jun</text>
<text x="232.5" y="598" font-size="11" fill="#111" font-weight="bold" text-anchor="middle" textLength="25.8" lengthAdjust="spacingAndGlyphs">2020</text>
<text x="278.4" y="598" font-size="10.8" fill="#111" text-anchor="middle" textLength="16.8" lengthAdjust="spacingAndGlyphs" stroke="#111" stroke-width="0.2">Jun</text>
<text x="346.2" y="598" font-size="11" fill="#111" font-weight="bold" text-anchor="middle" textLength="25.8" lengthAdjust="spacingAndGlyphs">2021</text>
<text x="392.3" y="598" font-size="10.8" fill="#111" text-anchor="middle" textLength="16.8" lengthAdjust="spacingAndGlyphs" stroke="#111" stroke-width="0.2">Jun</text>
<text x="459.2" y="598" font-size="11" fill="#111" font-weight="bold" text-anchor="middle" textLength="25.8" lengthAdjust="spacingAndGlyphs">2022</text>
<text x="506.0" y="598" font-size="10.8" fill="#111" text-anchor="middle" textLength="16.8" lengthAdjust="spacingAndGlyphs" stroke="#111" stroke-width="0.2">Jun</text>
<text x="573.3" y="598" font-size="11" fill="#111" font-weight="bold" text-anchor="middle" textLength="25.8" lengthAdjust="spacingAndGlyphs">2023</text>
<text x="620.5" y="598" font-size="10.8" fill="#111" text-anchor="middle" textLength="16.8" lengthAdjust="spacingAndGlyphs" stroke="#111" stroke-width="0.2">Jun</text>
<text x="686.4" y="598" font-size="11" fill="#111" font-weight="bold" text-anchor="middle" textLength="25.8" lengthAdjust="spacingAndGlyphs">2024</text>
<text x="733.5" y="598" font-size="10.8" fill="#111" text-anchor="middle" textLength="16.8" lengthAdjust="spacingAndGlyphs" stroke="#111" stroke-width="0.2">Jun</text>
<text x="800.2" y="598" font-size="11" fill="#111" font-weight="bold" text-anchor="middle" textLength="25.8" lengthAdjust="spacingAndGlyphs">2025</text>
<text x="846.5" y="598" font-size="10.8" fill="#111" text-anchor="middle" textLength="16.8" lengthAdjust="spacingAndGlyphs" stroke="#111" stroke-width="0.2">Jun</text>
<text x="913.2" y="598" font-size="11" fill="#111" font-weight="bold" text-anchor="middle" textLength="25.8" lengthAdjust="spacingAndGlyphs">2026</text>
<text x="958.4" y="598" font-size="10.8" fill="#111" text-anchor="middle" textLength="16.8" lengthAdjust="spacingAndGlyphs" stroke="#111" stroke-width="0.2">Jun</text>
</g>
</g>
<g id="footer">
<rect x="2.5" y="606.2" width="59.5" height="31.3" rx="4" fill="#dc5345"/>
<text x="32" y="626.6" font-size="13.3" fill="#fff" font-weight="bold" text-anchor="middle" textLength="44.5" lengthAdjust="spacingAndGlyphs" stroke="#fff" stroke-width="0.35">CONFG.</text>
<text x="80" y="625" font-size="14.5" fill="#111" font-weight="bold" textLength="13" lengthAdjust="spacingAndGlyphs">BI</text>
<path d="M114 618.7h7.6l-3.8 4.2z" fill="#6a6a6a"/>
<text x="144.1" y="626.5" font-size="15" fill="#222" textLength="17.2" lengthAdjust="spacingAndGlyphs" stroke="#222" stroke-width="0.2">All</text>
<text x="173.2" y="626.5" font-size="15" fill="#222" textLength="22.9" lengthAdjust="spacingAndGlyphs" stroke="#222" stroke-width="0.2">10A</text>
<text x="207.5" y="626.5" font-size="15" fill="#222" textLength="17.7" lengthAdjust="spacingAndGlyphs" stroke="#222" stroke-width="0.2">5A</text>
<text x="239.5" y="626.5" font-size="15" fill="#222" textLength="18.2" lengthAdjust="spacingAndGlyphs" stroke="#222" stroke-width="0.2">2A</text>
<text x="272.5" y="626.5" font-size="15" fill="#222" textLength="16.2" lengthAdjust="spacingAndGlyphs" stroke="#222" stroke-width="0.2">1A</text>
<text x="307.1" y="626.5" font-size="15" fill="#222" textLength="10.6" lengthAdjust="spacingAndGlyphs" stroke="#222" stroke-width="0.2">A</text>
<text x="334.1" y="626.5" font-size="15" fill="#222" textLength="21.6" lengthAdjust="spacingAndGlyphs" stroke="#222" stroke-width="0.2">6M</text>
<text x="363.5" y="626.5" font-size="15" fill="#222" textLength="26.2" lengthAdjust="spacingAndGlyphs" stroke="#222" stroke-width="0.2">60D</text>
<text x="395.5" y="626.5" font-size="15" fill="#222" textLength="26.2" lengthAdjust="spacingAndGlyphs" stroke="#222" stroke-width="0.2">30D</text>
<text x="429.0" y="626.5" font-size="15" fill="#222" textLength="23.7" lengthAdjust="spacingAndGlyphs" stroke="#222" stroke-width="0.2">15D</text>
<text x="463.5" y="626.5" font-size="15" fill="#222" textLength="18.2" lengthAdjust="spacingAndGlyphs" stroke="#222" stroke-width="0.2">5D</text>
<text x="495.2" y="626.5" font-size="15" fill="#222" textLength="18.5" lengthAdjust="spacingAndGlyphs" stroke="#222" stroke-width="0.2">2D</text>
<text x="528.1" y="626.5" font-size="15" fill="#222" textLength="16.6" lengthAdjust="spacingAndGlyphs" stroke="#222" stroke-width="0.2">1D</text>
<text x="1035" y="629" font-size="19" fill="#111" font-weight="bold" text-anchor="end" textLength="56.5" lengthAdjust="spacingAndGlyphs">95.892</text>
</g>
</svg>
</div>
</body>
</html>
